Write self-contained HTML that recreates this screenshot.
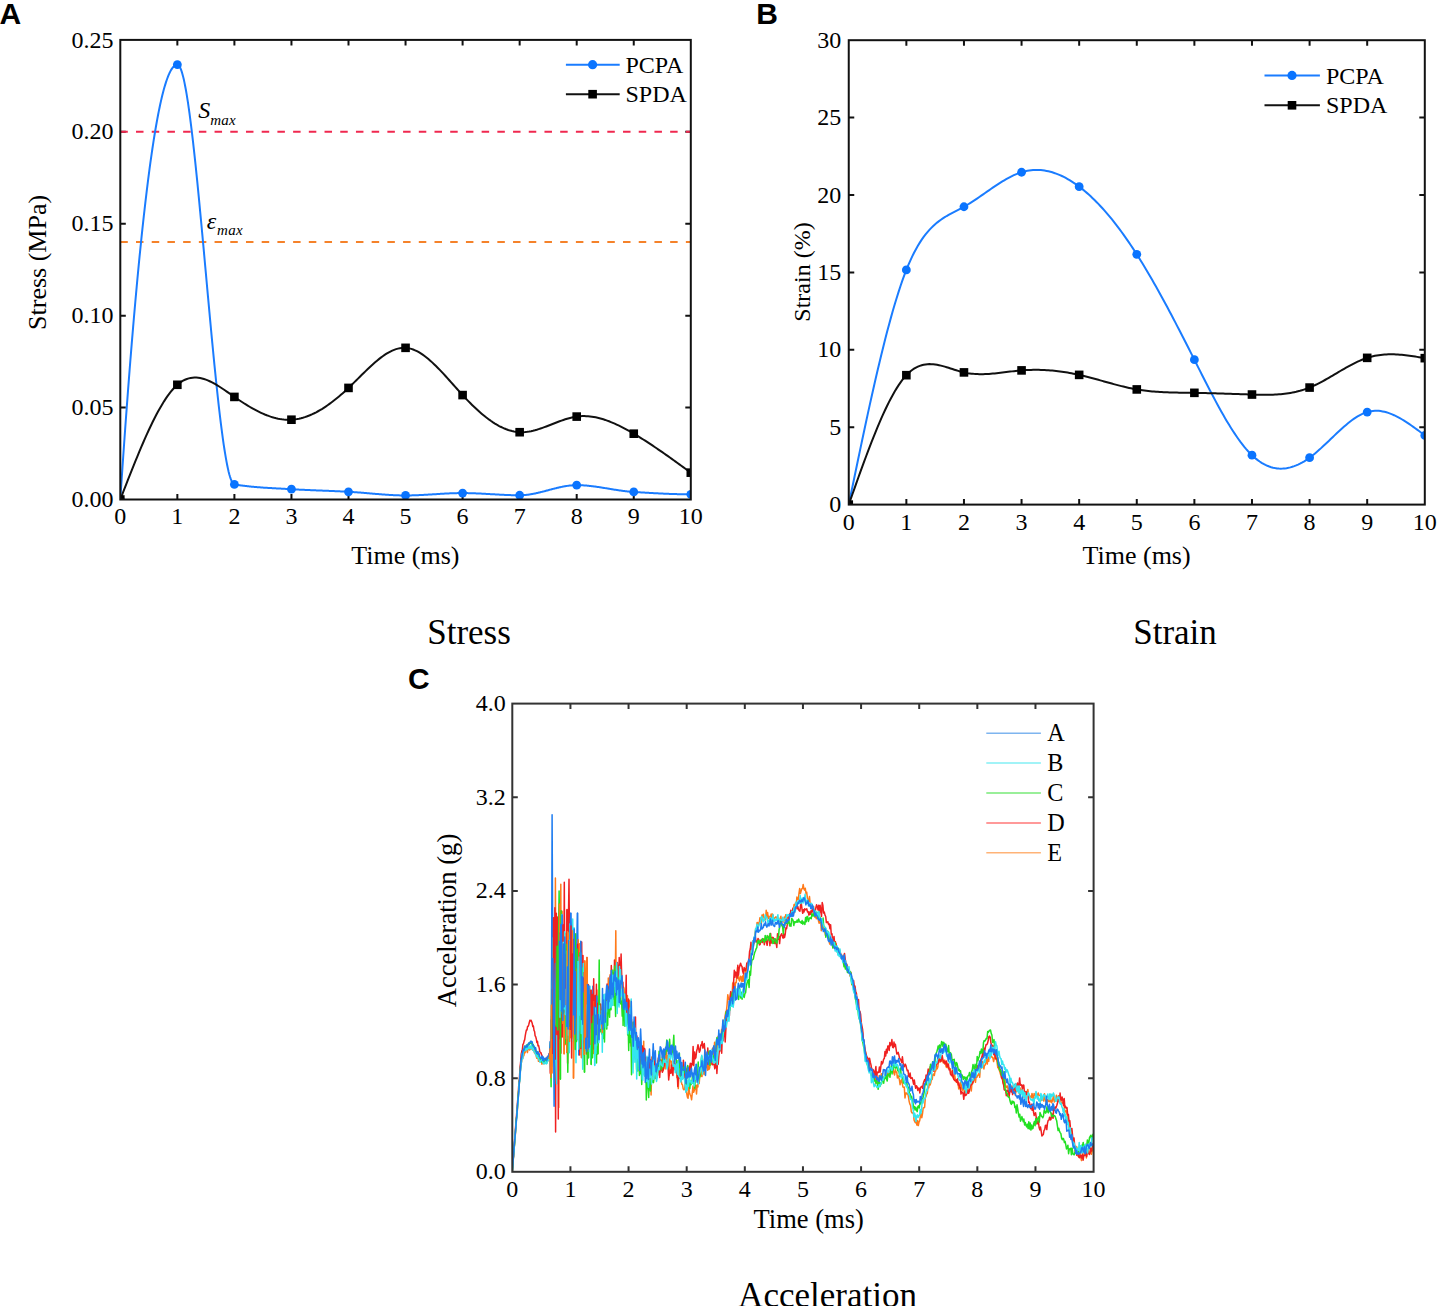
<!DOCTYPE html>
<html><head><meta charset="utf-8"><style>
html,body{margin:0;padding:0;background:#fff;}
body{width:1438px;height:1306px;position:relative;overflow:hidden;font-family:"Liberation Serif", serif;}
</style></head><body>
<svg width="1438" height="1306" viewBox="0 0 1438 1306" style="position:absolute;left:0;top:0">
<rect width="1438" height="1306" fill="#fff"/>
<clipPath id="cA"><rect x="120.3" y="39.9" width="570.5" height="459.6"/></clipPath>
<path d="M177.35,499.5v-5.5M177.35,39.9v5.5M234.40,499.5v-5.5M234.40,39.9v5.5M291.45,499.5v-5.5M291.45,39.9v5.5M348.50,499.5v-5.5M348.50,39.9v5.5M405.55,499.5v-5.5M405.55,39.9v5.5M462.60,499.5v-5.5M462.60,39.9v5.5M519.65,499.5v-5.5M519.65,39.9v5.5M576.70,499.5v-5.5M576.70,39.9v5.5M633.75,499.5v-5.5M633.75,39.9v5.5M120.3,407.58h5.5M690.8,407.58h-5.5M120.3,315.66h5.5M690.8,315.66h-5.5M120.3,223.74h5.5M690.8,223.74h-5.5M120.3,131.82h5.5M690.8,131.82h-5.5" stroke="#111" stroke-width="2" fill="none"/>
<path d="M120.3,131.82H690.8" stroke="#f0284f" stroke-width="2" stroke-dasharray="7.5 8.21" fill="none"/>
<path d="M120.3,242.12H690.8" stroke="#f5822a" stroke-width="2" stroke-dasharray="7.5 8.21" fill="none"/>
<g clip-path="url(#cA)">
<path d="M120.30,499.50 L121.01,488.79 L121.73,478.21 L122.44,467.76 L123.15,457.45 L123.87,447.26 L124.58,437.21 L125.29,427.29 L126.00,417.50 L126.72,407.84 L127.43,398.32 L128.14,388.93 L128.86,379.66 L129.57,370.54 L130.28,361.54 L131.00,352.68 L131.71,343.94 L132.42,335.34 L133.14,326.88 L133.85,318.54 L134.56,310.34 L135.28,302.27 L135.99,294.34 L136.70,286.54 L137.41,278.87 L138.13,271.33 L138.84,263.93 L139.55,256.66 L140.27,249.53 L140.98,242.53 L141.69,235.66 L142.41,228.93 L143.12,222.33 L143.83,215.86 L144.55,209.53 L145.26,203.33 L145.97,197.27 L146.69,191.34 L147.40,185.54 L148.11,179.88 L148.82,174.36 L149.54,168.97 L150.25,163.71 L150.96,158.59 L151.68,153.60 L152.39,148.75 L153.10,144.03 L153.82,139.45 L154.53,135.01 L155.24,130.70 L155.96,126.52 L156.67,122.48 L157.38,118.58 L158.10,114.81 L158.81,111.18 L159.52,107.68 L160.24,104.32 L160.95,101.10 L161.66,98.01 L162.37,95.06 L163.09,92.25 L163.80,89.57 L164.51,87.02 L165.23,84.62 L165.94,82.35 L166.65,80.22 L167.37,78.22 L168.08,76.37 L168.79,74.65 L169.51,73.06 L170.22,71.61 L170.93,70.31 L171.64,69.13 L172.36,68.10 L173.07,67.20 L173.78,66.44 L174.50,65.82 L175.21,65.34 L175.92,64.99 L176.64,64.79 L177.35,64.72 L178.06,64.91 L178.78,65.49 L179.49,66.43 L180.20,67.74 L180.92,69.40 L181.63,71.40 L182.34,73.73 L183.06,76.39 L183.77,79.35 L184.48,82.62 L185.19,86.19 L185.91,90.03 L186.62,94.16 L187.33,98.54 L188.05,103.18 L188.76,108.07 L189.47,113.18 L190.19,118.53 L190.90,124.09 L191.61,129.85 L192.33,135.82 L193.04,141.96 L193.75,148.29 L194.47,154.78 L195.18,161.43 L195.89,168.22 L196.60,175.16 L197.32,182.22 L198.03,189.40 L198.74,196.69 L199.46,204.07 L200.17,211.55 L200.88,219.10 L201.60,226.73 L202.31,234.41 L203.02,242.15 L203.74,249.92 L204.45,257.73 L205.16,265.55 L205.88,273.39 L206.59,281.23 L207.30,289.06 L208.01,296.87 L208.73,304.66 L209.44,312.41 L210.15,320.11 L210.87,327.75 L211.58,335.33 L212.29,342.83 L213.01,350.24 L213.72,357.56 L214.43,364.78 L215.15,371.87 L215.86,378.85 L216.57,385.68 L217.29,392.38 L218.00,398.92 L218.71,405.30 L219.42,411.50 L220.14,417.52 L220.85,423.34 L221.56,428.97 L222.28,434.38 L222.99,439.57 L223.70,444.52 L224.42,449.24 L225.13,453.70 L225.84,457.90 L226.56,461.84 L227.27,465.49 L227.98,468.85 L228.69,471.91 L229.41,474.66 L230.12,477.09 L230.83,479.19 L231.55,480.96 L232.26,482.37 L232.97,483.43 L233.69,484.11 L234.40,484.43 L235.11,484.54 L235.83,484.66 L236.54,484.77 L237.25,484.88 L237.97,484.99 L238.68,485.09 L239.39,485.19 L240.11,485.29 L240.82,485.39 L241.53,485.49 L242.24,485.58 L242.96,485.68 L243.67,485.77 L244.38,485.85 L245.10,485.94 L245.81,486.03 L246.52,486.11 L247.24,486.19 L247.95,486.27 L248.66,486.34 L249.38,486.42 L250.09,486.49 L250.80,486.57 L251.52,486.64 L252.23,486.71 L252.94,486.77 L253.65,486.84 L254.37,486.90 L255.08,486.97 L255.79,487.03 L256.51,487.09 L257.22,487.15 L257.93,487.21 L258.65,487.26 L259.36,487.32 L260.07,487.37 L260.79,487.42 L261.50,487.48 L262.21,487.53 L262.93,487.58 L263.64,487.63 L264.35,487.68 L265.06,487.72 L265.78,487.77 L266.49,487.82 L267.20,487.86 L267.92,487.90 L268.63,487.95 L269.34,487.99 L270.06,488.03 L270.77,488.07 L271.48,488.12 L272.20,488.16 L272.91,488.20 L273.62,488.24 L274.33,488.28 L275.05,488.32 L275.76,488.35 L276.47,488.39 L277.19,488.43 L277.90,488.47 L278.61,488.51 L279.33,488.54 L280.04,488.58 L280.75,488.62 L281.47,488.66 L282.18,488.70 L282.89,488.73 L283.61,488.77 L284.32,488.81 L285.03,488.85 L285.75,488.89 L286.46,488.92 L287.17,488.96 L287.88,489.00 L288.60,489.04 L289.31,489.08 L290.02,489.12 L290.74,489.16 L291.45,489.20 L292.16,489.25 L292.88,489.29 L293.59,489.33 L294.30,489.37 L295.02,489.41 L295.73,489.45 L296.44,489.48 L297.15,489.52 L297.87,489.56 L298.58,489.59 L299.29,489.63 L300.01,489.67 L300.72,489.70 L301.43,489.74 L302.15,489.77 L302.86,489.80 L303.57,489.84 L304.29,489.87 L305.00,489.90 L305.71,489.94 L306.43,489.97 L307.14,490.00 L307.85,490.03 L308.56,490.06 L309.28,490.09 L309.99,490.12 L310.70,490.15 L311.42,490.18 L312.13,490.21 L312.84,490.24 L313.56,490.27 L314.27,490.30 L314.98,490.33 L315.70,490.36 L316.41,490.39 L317.12,490.42 L317.84,490.45 L318.55,490.47 L319.26,490.50 L319.97,490.53 L320.69,490.56 L321.40,490.59 L322.11,490.62 L322.83,490.64 L323.54,490.67 L324.25,490.70 L324.97,490.73 L325.68,490.76 L326.39,490.79 L327.11,490.81 L327.82,490.84 L328.53,490.87 L329.25,490.90 L329.96,490.93 L330.67,490.96 L331.38,490.99 L332.10,491.02 L332.81,491.05 L333.52,491.08 L334.24,491.11 L334.95,491.14 L335.66,491.17 L336.38,491.20 L337.09,491.23 L337.80,491.26 L338.52,491.29 L339.23,491.33 L339.94,491.36 L340.66,491.39 L341.37,491.42 L342.08,491.46 L342.80,491.49 L343.51,491.53 L344.22,491.56 L344.93,491.60 L345.65,491.63 L346.36,491.67 L347.07,491.70 L347.79,491.74 L348.50,491.78 L349.21,491.82 L349.93,491.86 L350.64,491.90 L351.35,491.94 L352.07,491.99 L352.78,492.03 L353.49,492.08 L354.21,492.13 L354.92,492.18 L355.63,492.23 L356.34,492.28 L357.06,492.33 L357.77,492.38 L358.48,492.44 L359.20,492.49 L359.91,492.55 L360.62,492.61 L361.34,492.66 L362.05,492.72 L362.76,492.78 L363.48,492.84 L364.19,492.90 L364.90,492.96 L365.62,493.02 L366.33,493.08 L367.04,493.14 L367.75,493.20 L368.47,493.26 L369.18,493.32 L369.89,493.39 L370.61,493.45 L371.32,493.51 L372.03,493.57 L372.75,493.63 L373.46,493.69 L374.17,493.75 L374.89,493.82 L375.60,493.88 L376.31,493.94 L377.03,494.00 L377.74,494.05 L378.45,494.11 L379.16,494.17 L379.88,494.23 L380.59,494.29 L381.30,494.34 L382.02,494.40 L382.73,494.45 L383.44,494.51 L384.16,494.56 L384.87,494.61 L385.58,494.66 L386.30,494.71 L387.01,494.76 L387.72,494.81 L388.44,494.85 L389.15,494.90 L389.86,494.94 L390.57,494.98 L391.29,495.02 L392.00,495.06 L392.71,495.10 L393.43,495.14 L394.14,495.17 L394.85,495.20 L395.57,495.23 L396.28,495.26 L396.99,495.29 L397.71,495.32 L398.42,495.34 L399.13,495.36 L399.85,495.38 L400.56,495.40 L401.27,495.41 L401.98,495.43 L402.70,495.44 L403.41,495.44 L404.12,495.45 L404.84,495.45 L405.55,495.46 L406.26,495.45 L406.98,495.45 L407.69,495.45 L408.40,495.44 L409.12,495.43 L409.83,495.42 L410.54,495.40 L411.25,495.39 L411.97,495.37 L412.68,495.35 L413.39,495.33 L414.11,495.31 L414.82,495.29 L415.53,495.26 L416.25,495.23 L416.96,495.21 L417.67,495.18 L418.39,495.15 L419.10,495.12 L419.81,495.08 L420.53,495.05 L421.24,495.01 L421.95,494.98 L422.67,494.94 L423.38,494.90 L424.09,494.86 L424.80,494.82 L425.52,494.78 L426.23,494.74 L426.94,494.70 L427.66,494.66 L428.37,494.61 L429.08,494.57 L429.80,494.53 L430.51,494.48 L431.22,494.44 L431.94,494.39 L432.65,494.35 L433.36,494.31 L434.08,494.26 L434.79,494.22 L435.50,494.17 L436.21,494.13 L436.93,494.08 L437.64,494.04 L438.35,493.99 L439.07,493.95 L439.78,493.91 L440.49,493.86 L441.21,493.82 L441.92,493.78 L442.63,493.74 L443.35,493.70 L444.06,493.66 L444.77,493.62 L445.49,493.58 L446.20,493.54 L446.91,493.51 L447.62,493.47 L448.34,493.44 L449.05,493.41 L449.76,493.37 L450.48,493.34 L451.19,493.31 L451.90,493.29 L452.62,493.26 L453.33,493.23 L454.04,493.21 L454.76,493.19 L455.47,493.17 L456.18,493.15 L456.90,493.13 L457.61,493.12 L458.32,493.10 L459.03,493.09 L459.75,493.08 L460.46,493.08 L461.17,493.07 L461.89,493.07 L462.60,493.07 L463.31,493.07 L464.03,493.07 L464.74,493.07 L465.45,493.08 L466.17,493.09 L466.88,493.10 L467.59,493.11 L468.31,493.13 L469.02,493.14 L469.73,493.16 L470.44,493.18 L471.16,493.20 L471.87,493.22 L472.58,493.24 L473.30,493.27 L474.01,493.30 L474.72,493.32 L475.44,493.35 L476.15,493.38 L476.86,493.41 L477.58,493.44 L478.29,493.47 L479.00,493.51 L479.72,493.54 L480.43,493.58 L481.14,493.61 L481.85,493.65 L482.57,493.69 L483.28,493.73 L483.99,493.76 L484.71,493.80 L485.42,493.84 L486.13,493.88 L486.85,493.92 L487.56,493.96 L488.27,494.00 L488.99,494.04 L489.70,494.09 L490.41,494.13 L491.12,494.17 L491.84,494.21 L492.55,494.25 L493.26,494.29 L493.98,494.33 L494.69,494.37 L495.40,494.41 L496.12,494.46 L496.83,494.50 L497.54,494.53 L498.26,494.57 L498.97,494.61 L499.68,494.65 L500.40,494.69 L501.11,494.72 L501.82,494.76 L502.54,494.80 L503.25,494.83 L503.96,494.86 L504.67,494.90 L505.39,494.93 L506.10,494.96 L506.81,494.99 L507.53,495.02 L508.24,495.04 L508.95,495.07 L509.67,495.09 L510.38,495.12 L511.09,495.14 L511.81,495.16 L512.52,495.18 L513.23,495.19 L513.95,495.21 L514.66,495.22 L515.37,495.24 L516.08,495.25 L516.80,495.26 L517.51,495.26 L518.22,495.27 L518.94,495.27 L519.65,495.27 L520.36,495.27 L521.08,495.25 L521.79,495.23 L522.50,495.20 L523.22,495.16 L523.93,495.11 L524.64,495.05 L525.36,494.99 L526.07,494.92 L526.78,494.84 L527.49,494.75 L528.21,494.66 L528.92,494.56 L529.63,494.45 L530.35,494.34 L531.06,494.22 L531.77,494.10 L532.49,493.97 L533.20,493.83 L533.91,493.69 L534.63,493.55 L535.34,493.40 L536.05,493.24 L536.76,493.09 L537.48,492.93 L538.19,492.76 L538.90,492.59 L539.62,492.42 L540.33,492.25 L541.04,492.07 L541.76,491.89 L542.47,491.71 L543.18,491.53 L543.90,491.35 L544.61,491.16 L545.32,490.97 L546.04,490.78 L546.75,490.59 L547.46,490.41 L548.17,490.22 L548.89,490.03 L549.60,489.84 L550.31,489.65 L551.03,489.46 L551.74,489.27 L552.45,489.09 L553.17,488.90 L553.88,488.72 L554.59,488.54 L555.31,488.36 L556.02,488.18 L556.73,488.01 L557.45,487.84 L558.16,487.67 L558.87,487.51 L559.59,487.34 L560.30,487.19 L561.01,487.03 L561.72,486.88 L562.44,486.74 L563.15,486.60 L563.86,486.47 L564.58,486.34 L565.29,486.21 L566.00,486.09 L566.72,485.98 L567.43,485.87 L568.14,485.77 L568.86,485.68 L569.57,485.59 L570.28,485.52 L571.00,485.44 L571.71,485.38 L572.42,485.32 L573.13,485.27 L573.85,485.23 L574.56,485.20 L575.27,485.18 L575.99,485.17 L576.70,485.16 L577.41,485.16 L578.13,485.17 L578.84,485.18 L579.55,485.20 L580.27,485.22 L580.98,485.25 L581.69,485.28 L582.40,485.32 L583.12,485.36 L583.83,485.40 L584.54,485.45 L585.26,485.51 L585.97,485.56 L586.68,485.62 L587.40,485.69 L588.11,485.75 L588.82,485.83 L589.54,485.90 L590.25,485.98 L590.96,486.06 L591.68,486.14 L592.39,486.23 L593.10,486.32 L593.82,486.41 L594.53,486.50 L595.24,486.60 L595.95,486.69 L596.67,486.80 L597.38,486.90 L598.09,487.00 L598.81,487.11 L599.52,487.22 L600.23,487.32 L600.95,487.43 L601.66,487.55 L602.37,487.66 L603.09,487.77 L603.80,487.89 L604.51,488.00 L605.23,488.12 L605.94,488.24 L606.65,488.35 L607.36,488.47 L608.08,488.59 L608.79,488.71 L609.50,488.82 L610.22,488.94 L610.93,489.06 L611.64,489.18 L612.36,489.29 L613.07,489.41 L613.78,489.52 L614.50,489.64 L615.21,489.75 L615.92,489.86 L616.63,489.97 L617.35,490.08 L618.06,490.19 L618.77,490.30 L619.49,490.40 L620.20,490.51 L620.91,490.61 L621.63,490.71 L622.34,490.80 L623.05,490.90 L623.77,490.99 L624.48,491.08 L625.19,491.17 L625.91,491.25 L626.62,491.33 L627.33,491.41 L628.04,491.49 L628.76,491.56 L629.47,491.63 L630.18,491.69 L630.90,491.75 L631.61,491.81 L632.32,491.87 L633.04,491.92 L633.75,491.96 L634.46,492.01 L635.18,492.05 L635.89,492.10 L636.60,492.14 L637.32,492.18 L638.03,492.23 L638.74,492.27 L639.45,492.31 L640.17,492.36 L640.88,492.40 L641.59,492.44 L642.31,492.49 L643.02,492.53 L643.73,492.57 L644.45,492.62 L645.16,492.66 L645.87,492.70 L646.59,492.74 L647.30,492.78 L648.01,492.82 L648.73,492.87 L649.44,492.91 L650.15,492.95 L650.87,492.99 L651.58,493.03 L652.29,493.07 L653.00,493.11 L653.72,493.14 L654.43,493.18 L655.14,493.22 L655.86,493.26 L656.57,493.30 L657.28,493.33 L658.00,493.37 L658.71,493.40 L659.42,493.44 L660.14,493.47 L660.85,493.51 L661.56,493.54 L662.27,493.58 L662.99,493.61 L663.70,493.64 L664.41,493.67 L665.13,493.71 L665.84,493.74 L666.55,493.77 L667.27,493.80 L667.98,493.82 L668.69,493.85 L669.41,493.88 L670.12,493.91 L670.83,493.93 L671.55,493.96 L672.26,493.98 L672.97,494.01 L673.69,494.03 L674.40,494.05 L675.11,494.08 L675.82,494.10 L676.54,494.12 L677.25,494.14 L677.96,494.16 L678.68,494.18 L679.39,494.19 L680.10,494.21 L680.82,494.23 L681.53,494.24 L682.24,494.26 L682.96,494.27 L683.67,494.28 L684.38,494.29 L685.09,494.30 L685.81,494.31 L686.52,494.32 L687.23,494.33 L687.95,494.34 L688.66,494.34 L689.37,494.35 L690.09,494.35 L690.80,494.35" stroke="#1a7cff" stroke-width="2" fill="none" stroke-linejoin="round"/>
<circle cx="120.30" cy="499.50" r="4.4" fill="#0a74ff"/>
<circle cx="177.35" cy="64.72" r="4.4" fill="#0a74ff"/>
<circle cx="234.40" cy="484.43" r="4.4" fill="#0a74ff"/>
<circle cx="291.45" cy="489.20" r="4.4" fill="#0a74ff"/>
<circle cx="348.50" cy="491.78" r="4.4" fill="#0a74ff"/>
<circle cx="405.55" cy="495.46" r="4.4" fill="#0a74ff"/>
<circle cx="462.60" cy="493.07" r="4.4" fill="#0a74ff"/>
<circle cx="519.65" cy="495.27" r="4.4" fill="#0a74ff"/>
<circle cx="576.70" cy="485.16" r="4.4" fill="#0a74ff"/>
<circle cx="633.75" cy="491.96" r="4.4" fill="#0a74ff"/>
<circle cx="690.80" cy="494.35" r="4.4" fill="#0a74ff"/>
<path d="M120.30,499.50 L122.20,494.60 L124.10,489.71 L126.00,484.83 L127.91,479.97 L129.81,475.14 L131.71,470.35 L133.61,465.60 L135.51,460.90 L137.41,456.26 L139.32,451.68 L141.22,447.18 L143.12,442.75 L145.02,438.41 L146.92,434.16 L148.82,430.02 L150.73,425.98 L152.63,422.06 L154.53,418.25 L156.43,414.58 L158.33,411.05 L160.23,407.66 L162.14,404.41 L164.04,401.33 L165.94,398.41 L167.84,395.67 L169.74,393.10 L171.64,390.73 L173.55,388.54 L175.45,386.56 L177.35,384.78 L179.25,383.22 L181.15,381.87 L183.06,380.71 L184.96,379.75 L186.86,378.98 L188.76,378.38 L190.66,377.95 L192.56,377.68 L194.47,377.56 L196.37,377.59 L198.27,377.76 L200.17,378.06 L202.07,378.48 L203.97,379.01 L205.88,379.66 L207.78,380.40 L209.68,381.24 L211.58,382.15 L213.48,383.15 L215.38,384.21 L217.28,385.34 L219.19,386.52 L221.09,387.74 L222.99,389.00 L224.89,390.29 L226.79,391.60 L228.69,392.93 L230.60,394.26 L232.50,395.59 L234.40,396.92 L236.30,398.23 L238.20,399.51 L240.11,400.78 L242.01,402.03 L243.91,403.25 L245.81,404.44 L247.71,405.61 L249.61,406.74 L251.51,407.84 L253.42,408.91 L255.32,409.94 L257.22,410.93 L259.12,411.88 L261.02,412.78 L262.93,413.64 L264.83,414.46 L266.73,415.22 L268.63,415.93 L270.53,416.59 L272.43,417.19 L274.33,417.74 L276.24,418.22 L278.14,418.65 L280.04,419.01 L281.94,419.30 L283.84,419.53 L285.75,419.68 L287.65,419.77 L289.55,419.78 L291.45,419.71 L293.35,419.57 L295.25,419.35 L297.15,419.06 L299.06,418.69 L300.96,418.24 L302.86,417.73 L304.76,417.15 L306.66,416.50 L308.56,415.78 L310.47,415.00 L312.37,414.16 L314.27,413.25 L316.17,412.28 L318.07,411.25 L319.97,410.17 L321.88,409.03 L323.78,407.83 L325.68,406.58 L327.58,405.27 L329.48,403.92 L331.38,402.52 L333.29,401.07 L335.19,399.57 L337.09,398.03 L338.99,396.44 L340.89,394.81 L342.80,393.14 L344.70,391.44 L346.60,389.69 L348.50,387.91 L350.40,386.09 L352.30,384.25 L354.20,382.38 L356.11,380.50 L358.01,378.61 L359.91,376.72 L361.81,374.83 L363.71,372.96 L365.62,371.10 L367.52,369.27 L369.42,367.46 L371.32,365.70 L373.22,363.98 L375.12,362.31 L377.03,360.69 L378.93,359.14 L380.83,357.66 L382.73,356.26 L384.63,354.94 L386.53,353.71 L388.44,352.58 L390.34,351.55 L392.24,350.64 L394.14,349.83 L396.04,349.15 L397.94,348.60 L399.85,348.19 L401.75,347.92 L403.65,347.80 L405.55,347.83 L407.45,348.03 L409.35,348.38 L411.25,348.88 L413.16,349.52 L415.06,350.30 L416.96,351.21 L418.86,352.24 L420.76,353.39 L422.67,354.65 L424.57,356.02 L426.47,357.48 L428.37,359.03 L430.27,360.67 L432.17,362.38 L434.08,364.17 L435.98,366.02 L437.88,367.92 L439.78,369.88 L441.68,371.89 L443.58,373.94 L445.49,376.01 L447.39,378.11 L449.29,380.24 L451.19,382.37 L453.09,384.51 L454.99,386.65 L456.90,388.78 L458.80,390.90 L460.70,393.00 L462.60,395.08 L464.50,397.12 L466.40,399.13 L468.31,401.10 L470.21,403.03 L472.11,404.92 L474.01,406.76 L475.91,408.56 L477.81,410.31 L479.72,412.01 L481.62,413.66 L483.52,415.25 L485.42,416.79 L487.32,418.26 L489.22,419.68 L491.12,421.03 L493.03,422.32 L494.93,423.54 L496.83,424.68 L498.73,425.76 L500.63,426.76 L502.54,427.69 L504.44,428.54 L506.34,429.30 L508.24,429.98 L510.14,430.58 L512.04,431.09 L513.95,431.51 L515.85,431.84 L517.75,432.08 L519.65,432.21 L521.55,432.26 L523.45,432.20 L525.36,432.07 L527.26,431.85 L529.16,431.55 L531.06,431.19 L532.96,430.76 L534.86,430.28 L536.76,429.74 L538.67,429.15 L540.57,428.53 L542.47,427.87 L544.37,427.18 L546.27,426.46 L548.17,425.73 L550.08,424.99 L551.98,424.24 L553.88,423.50 L555.78,422.75 L557.68,422.02 L559.59,421.31 L561.49,420.61 L563.39,419.95 L565.29,419.32 L567.19,418.73 L569.09,418.19 L571.00,417.70 L572.90,417.26 L574.80,416.89 L576.70,416.59 L578.60,416.36 L580.50,416.20 L582.40,416.12 L584.31,416.10 L586.21,416.15 L588.11,416.27 L590.01,416.45 L591.91,416.69 L593.82,416.99 L595.72,417.35 L597.62,417.76 L599.52,418.23 L601.42,418.75 L603.32,419.32 L605.23,419.93 L607.13,420.60 L609.03,421.31 L610.93,422.06 L612.83,422.85 L614.73,423.68 L616.63,424.54 L618.54,425.45 L620.44,426.38 L622.34,427.35 L624.24,428.34 L626.14,429.36 L628.04,430.41 L629.95,431.48 L631.85,432.57 L633.75,433.69 L635.65,434.82 L637.55,435.96 L639.45,437.13 L641.36,438.31 L643.26,439.50 L645.16,440.71 L647.06,441.94 L648.96,443.17 L650.87,444.42 L652.77,445.69 L654.67,446.96 L656.57,448.25 L658.47,449.55 L660.37,450.85 L662.27,452.17 L664.18,453.50 L666.08,454.83 L667.98,456.17 L669.88,457.52 L671.78,458.88 L673.68,460.24 L675.59,461.61 L677.49,462.98 L679.39,464.35 L681.29,465.73 L683.19,467.11 L685.09,468.50 L687.00,469.88 L688.90,471.27 L690.80,472.66" stroke="#111" stroke-width="2" fill="none"/>
<rect x="116.00" y="495.20" width="8.6" height="8.6" fill="#000"/>
<rect x="173.05" y="380.48" width="8.6" height="8.6" fill="#000"/>
<rect x="230.10" y="392.62" width="8.6" height="8.6" fill="#000"/>
<rect x="287.15" y="415.41" width="8.6" height="8.6" fill="#000"/>
<rect x="344.20" y="383.61" width="8.6" height="8.6" fill="#000"/>
<rect x="401.25" y="343.53" width="8.6" height="8.6" fill="#000"/>
<rect x="458.30" y="390.78" width="8.6" height="8.6" fill="#000"/>
<rect x="515.35" y="427.91" width="8.6" height="8.6" fill="#000"/>
<rect x="572.40" y="412.29" width="8.6" height="8.6" fill="#000"/>
<rect x="629.45" y="429.39" width="8.6" height="8.6" fill="#000"/>
<rect x="686.50" y="468.36" width="8.6" height="8.6" fill="#000"/>
</g>
<rect x="120.3" y="39.9" width="570.5" height="459.6" fill="none" stroke="#111" stroke-width="2"/>
<text x="120.30" y="524.4" font-size="24" text-anchor="middle" font-family='"Liberation Serif", serif' >0</text>
<text x="177.35" y="524.4" font-size="24" text-anchor="middle" font-family='"Liberation Serif", serif' >1</text>
<text x="234.40" y="524.4" font-size="24" text-anchor="middle" font-family='"Liberation Serif", serif' >2</text>
<text x="291.45" y="524.4" font-size="24" text-anchor="middle" font-family='"Liberation Serif", serif' >3</text>
<text x="348.50" y="524.4" font-size="24" text-anchor="middle" font-family='"Liberation Serif", serif' >4</text>
<text x="405.55" y="524.4" font-size="24" text-anchor="middle" font-family='"Liberation Serif", serif' >5</text>
<text x="462.60" y="524.4" font-size="24" text-anchor="middle" font-family='"Liberation Serif", serif' >6</text>
<text x="519.65" y="524.4" font-size="24" text-anchor="middle" font-family='"Liberation Serif", serif' >7</text>
<text x="576.70" y="524.4" font-size="24" text-anchor="middle" font-family='"Liberation Serif", serif' >8</text>
<text x="633.75" y="524.4" font-size="24" text-anchor="middle" font-family='"Liberation Serif", serif' >9</text>
<text x="690.80" y="524.4" font-size="24" text-anchor="middle" font-family='"Liberation Serif", serif' >10</text>
<text x="113.6" y="507.10" font-size="24" text-anchor="end" font-family='"Liberation Serif", serif' >0.00</text>
<text x="113.6" y="415.18" font-size="24" text-anchor="end" font-family='"Liberation Serif", serif' >0.05</text>
<text x="113.6" y="323.26" font-size="24" text-anchor="end" font-family='"Liberation Serif", serif' >0.10</text>
<text x="113.6" y="231.34" font-size="24" text-anchor="end" font-family='"Liberation Serif", serif' >0.15</text>
<text x="113.6" y="139.42" font-size="24" text-anchor="end" font-family='"Liberation Serif", serif' >0.20</text>
<text x="113.6" y="47.50" font-size="24" text-anchor="end" font-family='"Liberation Serif", serif' >0.25</text>
<text x="405.4" y="564.4" font-size="26" text-anchor="middle" font-family='"Liberation Serif", serif' >Time (ms)</text>
<text transform="translate(46.3,262.4) rotate(-90)" font-size="26" text-anchor="middle" font-family='"Liberation Serif", serif'>Stress (MPa)</text>
<text x="198.3" y="118.4" font-size="24" font-style="italic" font-family='"Liberation Serif", serif'>S<tspan font-size="15" dy="6.5" letter-spacing="0.2">max</tspan></text>
<text x="206.8" y="229.3" font-size="24" font-style="italic" font-family='"Liberation Serif", serif'>ε<tspan font-size="15" dy="5.6" dx="0.8" letter-spacing="0.3">max</tspan></text>
<path d="M565.9,64.7H619.7" stroke="#1a7cff" stroke-width="2"/><circle cx="592.6" cy="64.7" r="4.6" fill="#0a74ff"/>
<path d="M565.9,94.2H619.7" stroke="#111" stroke-width="2"/><rect x="588.3" y="89.9" width="8.6" height="8.6" fill="#000"/>
<text x="625.5" y="72.6" font-size="24" text-anchor="start" font-family='"Liberation Serif", serif' >PCPA</text>
<text x="625.5" y="102.4" font-size="24" text-anchor="start" font-family='"Liberation Serif", serif' >SPDA</text>
<text x="-0.5" y="24" font-size="30" text-anchor="start" font-family='"Liberation Sans", sans-serif' font-weight="bold">A</text>
<clipPath id="cB"><rect x="848.75" y="40.2" width="576.05" height="464.40000000000003"/></clipPath>
<path d="M906.36,504.6v-5.5M906.36,40.2v5.5M963.96,504.6v-5.5M963.96,40.2v5.5M1021.56,504.6v-5.5M1021.56,40.2v5.5M1079.17,504.6v-5.5M1079.17,40.2v5.5M1136.78,504.6v-5.5M1136.78,40.2v5.5M1194.38,504.6v-5.5M1194.38,40.2v5.5M1251.98,504.6v-5.5M1251.98,40.2v5.5M1309.59,504.6v-5.5M1309.59,40.2v5.5M1367.19,504.6v-5.5M1367.19,40.2v5.5M848.75,427.20h5.5M1424.8,427.20h-5.5M848.75,349.80h5.5M1424.8,349.80h-5.5M848.75,272.40h5.5M1424.8,272.40h-5.5M848.75,195.00h5.5M1424.8,195.00h-5.5M848.75,117.60h5.5M1424.8,117.60h-5.5" stroke="#111" stroke-width="2" fill="none"/>
<g clip-path="url(#cB)">
<path d="M848.75,504.60 L850.67,495.29 L852.59,485.99 L854.51,476.72 L856.43,467.47 L858.35,458.26 L860.27,449.10 L862.19,440.00 L864.11,430.97 L866.03,422.02 L867.95,413.15 L869.87,404.39 L871.79,395.74 L873.71,387.20 L875.63,378.80 L877.55,370.53 L879.47,362.41 L881.39,354.45 L883.31,346.66 L885.23,339.05 L887.15,331.62 L889.07,324.40 L890.99,317.38 L892.91,310.58 L894.83,304.01 L896.75,297.68 L898.67,291.59 L900.59,285.76 L902.51,280.20 L904.43,274.92 L906.36,269.92 L908.28,265.22 L910.20,260.81 L912.12,256.67 L914.04,252.79 L915.96,249.16 L917.88,245.78 L919.80,242.62 L921.72,239.68 L923.64,236.94 L925.56,234.40 L927.48,232.05 L929.40,229.86 L931.32,227.84 L933.24,225.96 L935.16,224.22 L937.08,222.60 L939.00,221.10 L940.92,219.71 L942.84,218.40 L944.76,217.17 L946.68,216.01 L948.60,214.91 L950.52,213.85 L952.44,212.83 L954.36,211.83 L956.28,210.84 L958.20,209.85 L960.12,208.85 L962.04,207.82 L963.96,206.76 L965.88,205.66 L967.80,204.51 L969.72,203.33 L971.64,202.11 L973.56,200.87 L975.48,199.59 L977.40,198.30 L979.32,196.99 L981.24,195.66 L983.16,194.33 L985.08,192.99 L987.00,191.65 L988.92,190.32 L990.84,188.99 L992.76,187.68 L994.68,186.38 L996.60,185.10 L998.52,183.85 L1000.44,182.62 L1002.36,181.43 L1004.28,180.28 L1006.20,179.16 L1008.12,178.10 L1010.04,177.08 L1011.96,176.11 L1013.88,175.21 L1015.80,174.36 L1017.72,173.59 L1019.64,172.88 L1021.56,172.24 L1023.49,171.69 L1025.41,171.21 L1027.33,170.81 L1029.25,170.49 L1031.17,170.24 L1033.09,170.07 L1035.01,169.97 L1036.93,169.95 L1038.85,170.00 L1040.77,170.12 L1042.69,170.31 L1044.61,170.58 L1046.53,170.91 L1048.45,171.32 L1050.37,171.79 L1052.29,172.33 L1054.21,172.94 L1056.13,173.61 L1058.05,174.35 L1059.97,175.16 L1061.89,176.03 L1063.81,176.96 L1065.73,177.96 L1067.65,179.02 L1069.57,180.14 L1071.49,181.32 L1073.41,182.56 L1075.33,183.86 L1077.25,185.22 L1079.17,186.64 L1081.09,188.12 L1083.01,189.65 L1084.93,191.24 L1086.85,192.88 L1088.77,194.58 L1090.69,196.34 L1092.61,198.15 L1094.53,200.02 L1096.45,201.94 L1098.37,203.91 L1100.29,205.94 L1102.21,208.02 L1104.13,210.16 L1106.05,212.35 L1107.97,214.59 L1109.89,216.88 L1111.81,219.23 L1113.73,221.63 L1115.65,224.07 L1117.57,226.57 L1119.49,229.12 L1121.41,231.72 L1123.33,234.37 L1125.25,237.07 L1127.17,239.82 L1129.09,242.62 L1131.01,245.46 L1132.93,248.36 L1134.85,251.30 L1136.78,254.29 L1138.70,257.32 L1140.62,260.41 L1142.54,263.53 L1144.46,266.70 L1146.38,269.91 L1148.30,273.17 L1150.22,276.46 L1152.14,279.78 L1154.06,283.15 L1155.98,286.55 L1157.90,289.98 L1159.82,293.44 L1161.74,296.94 L1163.66,300.46 L1165.58,304.02 L1167.50,307.59 L1169.42,311.20 L1171.34,314.83 L1173.26,318.48 L1175.18,322.15 L1177.10,325.84 L1179.02,329.55 L1180.94,333.27 L1182.86,337.01 L1184.78,340.77 L1186.70,344.54 L1188.62,348.32 L1190.54,352.10 L1192.46,355.90 L1194.38,359.71 L1196.30,363.52 L1198.22,367.33 L1200.14,371.14 L1202.06,374.94 L1203.98,378.72 L1205.90,382.49 L1207.82,386.24 L1209.74,389.95 L1211.66,393.64 L1213.58,397.29 L1215.50,400.90 L1217.42,404.46 L1219.34,407.97 L1221.26,411.42 L1223.18,414.82 L1225.10,418.14 L1227.02,421.40 L1228.94,424.59 L1230.86,427.69 L1232.78,430.71 L1234.70,433.64 L1236.62,436.48 L1238.54,439.21 L1240.46,441.85 L1242.38,444.37 L1244.30,446.79 L1246.22,449.08 L1248.14,451.26 L1250.06,453.30 L1251.98,455.22 L1253.91,457.00 L1255.83,458.64 L1257.75,460.15 L1259.67,461.54 L1261.59,462.79 L1263.51,463.91 L1265.43,464.91 L1267.35,465.79 L1269.27,466.54 L1271.19,467.18 L1273.11,467.70 L1275.03,468.10 L1276.95,468.39 L1278.87,468.56 L1280.79,468.63 L1282.71,468.59 L1284.63,468.44 L1286.55,468.19 L1288.47,467.83 L1290.39,467.38 L1292.31,466.82 L1294.23,466.17 L1296.15,465.42 L1298.07,464.58 L1299.99,463.65 L1301.91,462.63 L1303.83,461.52 L1305.75,460.33 L1307.67,459.05 L1309.59,457.70 L1311.51,456.26 L1313.43,454.75 L1315.35,453.17 L1317.27,451.54 L1319.19,449.85 L1321.11,448.12 L1323.03,446.36 L1324.95,444.56 L1326.87,442.74 L1328.79,440.91 L1330.71,439.07 L1332.63,437.22 L1334.55,435.39 L1336.47,433.56 L1338.39,431.76 L1340.31,429.98 L1342.23,428.24 L1344.15,426.54 L1346.07,424.89 L1347.99,423.30 L1349.91,421.77 L1351.83,420.31 L1353.75,418.93 L1355.67,417.63 L1357.59,416.42 L1359.51,415.32 L1361.43,414.32 L1363.35,413.43 L1365.27,412.67 L1367.19,412.03 L1369.12,411.53 L1371.04,411.15 L1372.96,410.90 L1374.88,410.78 L1376.80,410.77 L1378.72,410.87 L1380.64,411.08 L1382.56,411.40 L1384.48,411.81 L1386.40,412.32 L1388.32,412.92 L1390.24,413.60 L1392.16,414.37 L1394.08,415.21 L1396.00,416.12 L1397.92,417.10 L1399.84,418.15 L1401.76,419.25 L1403.68,420.41 L1405.60,421.61 L1407.52,422.86 L1409.44,424.15 L1411.36,425.48 L1413.28,426.84 L1415.20,428.23 L1417.12,429.64 L1419.04,431.06 L1420.96,432.50 L1422.88,433.95 L1424.80,435.40" stroke="#1a7cff" stroke-width="2" fill="none"/>
<circle cx="848.75" cy="504.60" r="4.4" fill="#0a74ff"/>
<circle cx="906.36" cy="269.92" r="4.4" fill="#0a74ff"/>
<circle cx="963.96" cy="206.76" r="4.4" fill="#0a74ff"/>
<circle cx="1021.56" cy="172.24" r="4.4" fill="#0a74ff"/>
<circle cx="1079.17" cy="186.64" r="4.4" fill="#0a74ff"/>
<circle cx="1136.78" cy="254.29" r="4.4" fill="#0a74ff"/>
<circle cx="1194.38" cy="359.71" r="4.4" fill="#0a74ff"/>
<circle cx="1251.98" cy="455.22" r="4.4" fill="#0a74ff"/>
<circle cx="1309.59" cy="457.70" r="4.4" fill="#0a74ff"/>
<circle cx="1367.19" cy="412.03" r="4.4" fill="#0a74ff"/>
<circle cx="1424.80" cy="435.40" r="4.4" fill="#0a74ff"/>
<path d="M848.75,504.60 L850.67,499.16 L852.59,493.72 L854.51,488.30 L856.43,482.90 L858.35,477.53 L860.27,472.20 L862.19,466.92 L864.11,461.68 L866.03,456.51 L867.95,451.41 L869.87,446.38 L871.79,441.43 L873.71,436.58 L875.63,431.82 L877.55,427.17 L879.47,422.63 L881.39,418.21 L883.31,413.92 L885.23,409.77 L887.15,405.76 L889.07,401.90 L890.99,398.20 L892.91,394.66 L894.83,391.30 L896.75,388.12 L898.67,385.12 L900.59,382.33 L902.51,379.73 L904.43,377.35 L906.36,375.19 L908.28,373.25 L910.20,371.52 L912.12,370.01 L914.04,368.69 L915.96,367.56 L917.88,366.61 L919.80,365.82 L921.72,365.20 L923.64,364.72 L925.56,364.39 L927.48,364.18 L929.40,364.10 L931.32,364.13 L933.24,364.26 L935.16,364.48 L937.08,364.79 L939.00,365.17 L940.92,365.61 L942.84,366.11 L944.76,366.65 L946.68,367.22 L948.60,367.82 L950.52,368.44 L952.44,369.06 L954.36,369.68 L956.28,370.29 L958.20,370.88 L960.12,371.43 L962.04,371.94 L963.96,372.40 L965.88,372.80 L967.80,373.15 L969.72,373.43 L971.64,373.67 L973.56,373.86 L975.48,374.00 L977.40,374.09 L979.32,374.14 L981.24,374.16 L983.16,374.14 L985.08,374.08 L987.00,374.00 L988.92,373.89 L990.84,373.75 L992.76,373.59 L994.68,373.41 L996.60,373.21 L998.52,373.00 L1000.44,372.78 L1002.36,372.55 L1004.28,372.32 L1006.20,372.08 L1008.12,371.84 L1010.04,371.60 L1011.96,371.37 L1013.88,371.15 L1015.80,370.93 L1017.72,370.74 L1019.64,370.55 L1021.56,370.39 L1023.49,370.25 L1025.41,370.12 L1027.33,370.02 L1029.25,369.95 L1031.17,369.89 L1033.09,369.85 L1035.01,369.84 L1036.93,369.84 L1038.85,369.87 L1040.77,369.91 L1042.69,369.98 L1044.61,370.06 L1046.53,370.17 L1048.45,370.29 L1050.37,370.44 L1052.29,370.61 L1054.21,370.79 L1056.13,370.99 L1058.05,371.22 L1059.97,371.46 L1061.89,371.72 L1063.81,372.00 L1065.73,372.29 L1067.65,372.61 L1069.57,372.94 L1071.49,373.29 L1073.41,373.66 L1075.33,374.05 L1077.25,374.46 L1079.17,374.88 L1081.09,375.32 L1083.01,375.77 L1084.93,376.24 L1086.85,376.73 L1088.77,377.22 L1090.69,377.73 L1092.61,378.24 L1094.53,378.76 L1096.45,379.29 L1098.37,379.82 L1100.29,380.36 L1102.21,380.90 L1104.13,381.44 L1106.05,381.98 L1107.97,382.52 L1109.89,383.05 L1111.81,383.58 L1113.73,384.11 L1115.65,384.62 L1117.57,385.13 L1119.49,385.63 L1121.41,386.12 L1123.33,386.59 L1125.25,387.05 L1127.17,387.49 L1129.09,387.92 L1131.01,388.33 L1132.93,388.72 L1134.85,389.08 L1136.78,389.43 L1138.70,389.75 L1140.62,390.05 L1142.54,390.33 L1144.46,390.58 L1146.38,390.82 L1148.30,391.03 L1150.22,391.23 L1152.14,391.41 L1154.06,391.58 L1155.98,391.73 L1157.90,391.86 L1159.82,391.98 L1161.74,392.09 L1163.66,392.18 L1165.58,392.27 L1167.50,392.34 L1169.42,392.41 L1171.34,392.46 L1173.26,392.51 L1175.18,392.56 L1177.10,392.59 L1179.02,392.63 L1180.94,392.66 L1182.86,392.68 L1184.78,392.71 L1186.70,392.73 L1188.62,392.75 L1190.54,392.78 L1192.46,392.81 L1194.38,392.83 L1196.30,392.87 L1198.22,392.90 L1200.14,392.94 L1202.06,392.98 L1203.98,393.03 L1205.90,393.08 L1207.82,393.13 L1209.74,393.18 L1211.66,393.23 L1213.58,393.29 L1215.50,393.35 L1217.42,393.41 L1219.34,393.47 L1221.26,393.53 L1223.18,393.60 L1225.10,393.66 L1227.02,393.73 L1228.94,393.79 L1230.86,393.86 L1232.78,393.92 L1234.70,393.99 L1236.62,394.05 L1238.54,394.12 L1240.46,394.18 L1242.38,394.24 L1244.30,394.30 L1246.22,394.37 L1248.14,394.42 L1250.06,394.48 L1251.98,394.54 L1253.91,394.59 L1255.83,394.64 L1257.75,394.68 L1259.67,394.72 L1261.59,394.75 L1263.51,394.77 L1265.43,394.77 L1267.35,394.76 L1269.27,394.74 L1271.19,394.70 L1273.11,394.63 L1275.03,394.55 L1276.95,394.45 L1278.87,394.32 L1280.79,394.16 L1282.71,393.98 L1284.63,393.77 L1286.55,393.53 L1288.47,393.25 L1290.39,392.94 L1292.31,392.60 L1294.23,392.21 L1296.15,391.79 L1298.07,391.32 L1299.99,390.82 L1301.91,390.26 L1303.83,389.66 L1305.75,389.02 L1307.67,388.32 L1309.59,387.57 L1311.51,386.77 L1313.43,385.92 L1315.35,385.02 L1317.27,384.09 L1319.19,383.11 L1321.11,382.10 L1323.03,381.06 L1324.95,380.00 L1326.87,378.91 L1328.79,377.81 L1330.71,376.69 L1332.63,375.56 L1334.55,374.42 L1336.47,373.28 L1338.39,372.14 L1340.31,371.01 L1342.23,369.88 L1344.15,368.77 L1346.07,367.68 L1347.99,366.60 L1349.91,365.55 L1351.83,364.53 L1353.75,363.54 L1355.67,362.59 L1357.59,361.68 L1359.51,360.81 L1361.43,359.99 L1363.35,359.22 L1365.27,358.50 L1367.19,357.85 L1369.12,357.26 L1371.04,356.73 L1372.96,356.26 L1374.88,355.84 L1376.80,355.48 L1378.72,355.17 L1380.64,354.92 L1382.56,354.71 L1384.48,354.55 L1386.40,354.43 L1388.32,354.36 L1390.24,354.32 L1392.16,354.33 L1394.08,354.37 L1396.00,354.44 L1397.92,354.55 L1399.84,354.68 L1401.76,354.84 L1403.68,355.03 L1405.60,355.24 L1407.52,355.47 L1409.44,355.72 L1411.36,355.99 L1413.28,356.27 L1415.20,356.57 L1417.12,356.87 L1419.04,357.19 L1420.96,357.51 L1422.88,357.83 L1424.80,358.16" stroke="#111" stroke-width="2" fill="none"/>
<rect x="844.45" y="500.30" width="8.6" height="8.6" fill="#000"/>
<rect x="902.06" y="370.89" width="8.6" height="8.6" fill="#000"/>
<rect x="959.66" y="368.10" width="8.6" height="8.6" fill="#000"/>
<rect x="1017.26" y="366.09" width="8.6" height="8.6" fill="#000"/>
<rect x="1074.87" y="370.58" width="8.6" height="8.6" fill="#000"/>
<rect x="1132.48" y="385.13" width="8.6" height="8.6" fill="#000"/>
<rect x="1190.08" y="388.53" width="8.6" height="8.6" fill="#000"/>
<rect x="1247.68" y="390.24" width="8.6" height="8.6" fill="#000"/>
<rect x="1305.29" y="383.27" width="8.6" height="8.6" fill="#000"/>
<rect x="1362.89" y="353.55" width="8.6" height="8.6" fill="#000"/>
<rect x="1420.50" y="353.86" width="8.6" height="8.6" fill="#000"/>
</g>
<rect x="848.75" y="40.2" width="576.05" height="464.40000000000003" fill="none" stroke="#111" stroke-width="2"/>
<text x="848.75" y="529.5" font-size="24" text-anchor="middle" font-family='"Liberation Serif", serif' >0</text>
<text x="906.36" y="529.5" font-size="24" text-anchor="middle" font-family='"Liberation Serif", serif' >1</text>
<text x="963.96" y="529.5" font-size="24" text-anchor="middle" font-family='"Liberation Serif", serif' >2</text>
<text x="1021.56" y="529.5" font-size="24" text-anchor="middle" font-family='"Liberation Serif", serif' >3</text>
<text x="1079.17" y="529.5" font-size="24" text-anchor="middle" font-family='"Liberation Serif", serif' >4</text>
<text x="1136.78" y="529.5" font-size="24" text-anchor="middle" font-family='"Liberation Serif", serif' >5</text>
<text x="1194.38" y="529.5" font-size="24" text-anchor="middle" font-family='"Liberation Serif", serif' >6</text>
<text x="1251.98" y="529.5" font-size="24" text-anchor="middle" font-family='"Liberation Serif", serif' >7</text>
<text x="1309.59" y="529.5" font-size="24" text-anchor="middle" font-family='"Liberation Serif", serif' >8</text>
<text x="1367.19" y="529.5" font-size="24" text-anchor="middle" font-family='"Liberation Serif", serif' >9</text>
<text x="1424.80" y="529.5" font-size="24" text-anchor="middle" font-family='"Liberation Serif", serif' >10</text>
<text x="841.2" y="512.20" font-size="24" text-anchor="end" font-family='"Liberation Serif", serif' >0</text>
<text x="841.2" y="434.80" font-size="24" text-anchor="end" font-family='"Liberation Serif", serif' >5</text>
<text x="841.2" y="357.40" font-size="24" text-anchor="end" font-family='"Liberation Serif", serif' >10</text>
<text x="841.2" y="280.00" font-size="24" text-anchor="end" font-family='"Liberation Serif", serif' >15</text>
<text x="841.2" y="202.60" font-size="24" text-anchor="end" font-family='"Liberation Serif", serif' >20</text>
<text x="841.2" y="125.20" font-size="24" text-anchor="end" font-family='"Liberation Serif", serif' >25</text>
<text x="841.2" y="47.80" font-size="24" text-anchor="end" font-family='"Liberation Serif", serif' >30</text>
<text x="1136.6" y="564.4" font-size="26" text-anchor="middle" font-family='"Liberation Serif", serif' >Time (ms)</text>
<text transform="translate(809.5,272) rotate(-90)" font-size="24" text-anchor="middle" font-family='"Liberation Serif", serif'>Strain (%)</text>
<path d="M1264.5,75.4H1319.9" stroke="#1a7cff" stroke-width="2"/><circle cx="1292" cy="75.4" r="4.6" fill="#0a74ff"/>
<path d="M1264.5,105.3H1319.9" stroke="#111" stroke-width="2"/><rect x="1287.7" y="101" width="8.6" height="8.6" fill="#000"/>
<text x="1326" y="84.2" font-size="24" text-anchor="start" font-family='"Liberation Serif", serif' >PCPA</text>
<text x="1326" y="113.4" font-size="24" text-anchor="start" font-family='"Liberation Serif", serif' >SPDA</text>
<text x="756.3" y="24" font-size="30" text-anchor="start" font-family='"Liberation Sans", sans-serif' font-weight="bold">B</text>
<text x="469" y="643.7" font-size="35" text-anchor="middle" font-family='"Liberation Serif", serif' >Stress</text>
<text x="1175" y="643.6" font-size="35" text-anchor="middle" font-family='"Liberation Serif", serif' >Strain</text>
<text x="827.5" y="1306.5" font-size="35" text-anchor="middle" font-family='"Liberation Serif", serif' >Acceleration</text>
<clipPath id="cC"><rect x="512.3" y="703.6" width="581.3" height="468.19999999999993"/></clipPath>
<path d="M570.43,1171.8v-5.5M570.43,703.6v5.5M628.56,1171.8v-5.5M628.56,703.6v5.5M686.69,1171.8v-5.5M686.69,703.6v5.5M744.82,1171.8v-5.5M744.82,703.6v5.5M802.95,1171.8v-5.5M802.95,703.6v5.5M861.08,1171.8v-5.5M861.08,703.6v5.5M919.21,1171.8v-5.5M919.21,703.6v5.5M977.34,1171.8v-5.5M977.34,703.6v5.5M1035.47,1171.8v-5.5M1035.47,703.6v5.5M512.3,1078.16h5.5M1093.6,1078.16h-5.5M512.3,984.52h5.5M1093.6,984.52h-5.5M512.3,890.88h5.5M1093.6,890.88h-5.5M512.3,797.24h5.5M1093.6,797.24h-5.5" stroke="#333" stroke-width="2" fill="none"/>
<g clip-path="url(#cC)"><path d="M512.3,1171.8 512.9,1163.9 513.5,1157.3 514.0,1150.8 514.6,1143.0 515.2,1136.6 515.8,1128.1 516.4,1119.4 517.0,1115.2 517.5,1108.3 518.1,1099.1 518.7,1091.4 519.3,1084.0 519.9,1078.1 520.4,1070.2 521.0,1063.5 521.6,1062.0 522.2,1058.0 522.8,1058.4 523.3,1056.1 523.9,1055.6 524.5,1052.2 525.1,1052.8 525.7,1049.9 526.3,1049.5 526.8,1049.6 527.4,1052.5 528.0,1049.4 528.6,1048.4 529.2,1048.0 529.7,1050.1 530.3,1048.4 530.9,1049.1 531.5,1048.9 532.1,1046.7 532.6,1050.0 533.2,1049.8 533.8,1049.5 534.4,1052.6 535.0,1053.1 535.6,1054.0 536.1,1055.3 536.7,1058.2 537.3,1057.4 537.9,1056.5 538.5,1061.3 539.0,1058.5 539.6,1060.1 540.2,1061.8 540.8,1058.7 541.4,1061.0 541.9,1064.2 542.5,1062.9 543.1,1062.5 543.7,1063.7 544.3,1062.6 544.9,1063.5 545.4,1062.3 546.0,1060.8 546.6,1063.2 547.2,1061.3 547.8,1061.1 548.3,1059.9 548.9,1058.8 549.5,1057.6 550.1,1048.7" stroke="#ff7a1a" stroke-width="1.5" fill="none" stroke-linejoin="round"/>
<path d="M512.3,1171.8 513.0,1159.1 513.6,1156.4 514.2,1147.2 514.8,1137.2 515.4,1129.4 516.0,1122.0 516.5,1115.8 517.1,1107.7 517.7,1099.7 518.3,1092.5 518.9,1082.6 519.4,1079.0 520.0,1067.2 520.6,1062.7 521.2,1054.1 521.8,1051.3 522.4,1049.2 522.9,1044.5 523.5,1043.6 524.1,1041.1 524.7,1039.6 525.3,1035.3 525.8,1032.6 526.4,1030.0 527.0,1029.9 527.6,1026.5 528.2,1026.3 528.7,1024.9 529.3,1022.5 529.9,1020.3 530.5,1021.0 531.1,1020.4 531.7,1021.7 532.2,1023.2 532.8,1026.5 533.4,1026.0 534.0,1030.3 534.6,1031.5 535.1,1035.8 535.7,1036.6 536.3,1039.0 536.9,1042.6 537.5,1041.4 538.0,1045.8 538.6,1045.6 539.2,1048.1 539.8,1051.7 540.4,1052.7 541.0,1052.8 541.5,1054.6 542.1,1055.8 542.7,1057.4 543.3,1060.6 543.9,1059.2 544.4,1062.5 545.0,1058.7 545.6,1060.0 546.2,1059.5 546.8,1058.3 547.3,1056.9 547.9,1057.1 548.5,1055.4 549.1,1054.3 549.7,1053.0" stroke="#f02020" stroke-width="1.5" fill="none" stroke-linejoin="round"/>
<path d="M512.3,1171.8 513.2,1159.8 513.8,1149.3 514.4,1146.1 515.0,1136.5 515.5,1131.7 516.1,1120.6 516.7,1116.6 517.3,1109.2 517.9,1100.2 518.5,1091.8 519.0,1087.2 519.6,1078.3 520.2,1072.7 520.8,1064.2 521.4,1059.5 521.9,1056.2 522.5,1054.6 523.1,1052.5 523.7,1051.5 524.3,1048.4 524.8,1045.9 525.4,1049.8 526.0,1046.4 526.6,1046.2 527.2,1044.4 527.8,1045.9 528.3,1044.3 528.9,1045.2 529.5,1042.4 530.1,1043.1 530.7,1043.4 531.2,1042.8 531.8,1044.1 532.4,1046.6 533.0,1044.4 533.6,1045.9 534.1,1047.7 534.7,1047.4 535.3,1048.4 535.9,1052.9 536.5,1053.7 537.1,1051.6 537.6,1052.9 538.2,1056.8 538.8,1058.1 539.4,1058.1 540.0,1058.6 540.5,1060.9 541.1,1059.3 541.7,1061.8 542.3,1062.2 542.9,1059.7 543.4,1062.3 544.0,1061.7 544.6,1060.8 545.2,1060.4 545.8,1061.8 546.4,1061.0 546.9,1061.7 547.5,1058.2 548.1,1058.9 548.7,1058.2 549.3,1057.2 549.8,1056.0" stroke="#22e022" stroke-width="1.5" fill="none" stroke-linejoin="round"/>
<path d="M512.3,1171.8 513.4,1158.4 514.0,1150.5 514.5,1143.2 515.1,1135.7 515.7,1128.3 516.3,1122.7 516.9,1116.1 517.5,1107.0 518.0,1102.8 518.6,1093.4 519.2,1082.5 519.8,1081.0 520.4,1071.4 520.9,1063.6 521.5,1062.3 522.1,1053.3 522.7,1058.9 523.3,1051.7 523.9,1050.2 524.4,1049.9 525.0,1050.6 525.6,1049.0 526.2,1050.1 526.8,1047.2 527.3,1049.5 527.9,1048.0 528.5,1045.9 529.1,1048.6 529.7,1047.3 530.2,1046.4 530.8,1048.5 531.4,1045.1 532.0,1046.7 532.6,1050.0 533.2,1048.8 533.7,1050.9 534.3,1051.8 534.9,1052.0 535.5,1054.4 536.1,1053.3 536.6,1056.8 537.2,1055.5 537.8,1057.9 538.4,1057.4 539.0,1060.0 539.5,1060.6 540.1,1062.2 540.7,1060.4 541.3,1060.6 541.9,1059.4 542.5,1061.1 543.0,1062.9 543.6,1063.8 544.2,1063.1 544.8,1063.7 545.4,1061.4 545.9,1061.8 546.5,1063.9 547.1,1063.1 547.7,1060.3 548.3,1060.5 548.8,1059.5 549.4,1058.4 550.0,1057.1" stroke="#33e6f0" stroke-width="1.5" fill="none" stroke-linejoin="round"/>
<path d="M512.3,1171.8 513.6,1153.7 514.1,1147.0 514.7,1140.5 515.3,1134.1 515.9,1126.4 516.5,1118.2 517.0,1113.3 517.6,1103.5 518.2,1098.3 518.8,1091.4 519.4,1082.5 519.9,1076.0 520.5,1068.9 521.1,1059.7 521.7,1057.3 522.3,1054.1 522.9,1051.0 523.4,1049.3 524.0,1050.4 524.6,1046.6 525.2,1046.9 525.8,1046.6 526.3,1045.2 526.9,1047.3 527.5,1045.9 528.1,1044.5 528.7,1043.0 529.3,1044.1 529.8,1043.4 530.4,1041.7 531.0,1041.1 531.6,1042.2 532.2,1041.9 532.7,1045.0 533.3,1045.8 533.9,1045.9 534.5,1047.9 535.1,1049.4 535.6,1047.6 536.2,1051.4 536.8,1053.6 537.4,1052.6 538.0,1051.6 538.6,1054.7 539.1,1053.7 539.7,1056.7 540.3,1057.4 540.9,1058.3 541.5,1058.1 542.0,1055.9 542.6,1060.5 543.2,1056.9 543.8,1060.8 544.4,1059.8 544.9,1058.2 545.5,1058.2 546.1,1058.3 546.7,1060.5 547.3,1057.1 547.9,1057.3 548.4,1055.8 549.0,1054.7 549.6,1053.5" stroke="#1e7cf0" stroke-width="1.5" fill="none" stroke-linejoin="round"/>
<path d="M549.1,1054.3 549.7,1053.0 550.3,1073.2 550.9,1020.0 551.6,1052.7 552.3,947.3 552.9,1054.1 553.6,917.7" stroke="#f02020" stroke-width="1.5" fill="none" stroke-linejoin="round"/>
<path d="M549.3,1057.2 549.8,1056.0 550.4,1042.5 551.1,1086.8 551.8,954.5 552.4,1038.7 553.1,994.6" stroke="#22e022" stroke-width="1.5" fill="none" stroke-linejoin="round"/>
<path d="M549.4,1058.4 550.0,1057.1 550.6,1070.0 551.3,1016.5 551.9,1066.6 552.6,988.7 553.3,937.7" stroke="#33e6f0" stroke-width="1.5" fill="none" stroke-linejoin="round"/>
<path d="M549.0,1054.7 549.6,1053.5 550.2,1041.4 550.8,1055.6 551.4,1019.3 552.1,814.8 552.8,958.1 553.4,1009.5" stroke="#1e7cf0" stroke-width="1.5" fill="none" stroke-linejoin="round"/>
<path d="M548.9,1058.8 549.5,1057.6 550.1,1048.7 550.8,1077.5 551.4,1005.2 552.1,1073.0 552.8,963.7 553.4,1019.3" stroke="#ff7a1a" stroke-width="1.5" fill="none" stroke-linejoin="round"/>
<path d="M552.4,1038.7 553.1,994.6 553.8,1008.4 554.4,960.5 555.1,1099.2 555.8,921.4 556.4,1026.9 557.1,946.3" stroke="#22e022" stroke-width="1.5" fill="none" stroke-linejoin="round"/>
<path d="M552.6,988.7 553.3,937.7 553.9,937.9 554.6,1043.5 555.3,947.9 555.9,1059.8 556.6,1084.0" stroke="#33e6f0" stroke-width="1.5" fill="none" stroke-linejoin="round"/>
<path d="M552.8,963.7 553.4,1019.3 554.1,941.0 554.8,1052.7 555.4,878.0 556.1,1025.4 556.8,917.6" stroke="#ff7a1a" stroke-width="1.5" fill="none" stroke-linejoin="round"/>
<path d="M552.9,1054.1 553.6,917.7 554.3,1031.7 554.9,907.7 555.6,1132.0 556.3,913.2 556.9,1034.5" stroke="#f02020" stroke-width="1.5" fill="none" stroke-linejoin="round"/>
<path d="M552.8,958.1 553.4,1009.5 554.1,1106.3 554.8,983.8 555.4,963.6 556.1,1023.6 556.8,923.2" stroke="#1e7cf0" stroke-width="1.5" fill="none" stroke-linejoin="round"/>
<path d="M555.9,1059.8 556.6,1084.0 557.3,989.9 557.9,944.2 558.6,1024.8 559.3,908.7 559.9,1017.8 560.6,933.4" stroke="#33e6f0" stroke-width="1.5" fill="none" stroke-linejoin="round"/>
<path d="M556.1,1023.6 556.8,923.2 557.4,993.3 558.1,949.0 558.8,1023.8 559.4,940.7 560.1,999.5" stroke="#1e7cf0" stroke-width="1.5" fill="none" stroke-linejoin="round"/>
<path d="M556.1,1025.4 556.8,917.6 557.4,1004.3 558.1,925.2 558.8,1107.4 559.4,903.5 560.1,1070.7" stroke="#ff7a1a" stroke-width="1.5" fill="none" stroke-linejoin="round"/>
<path d="M556.3,913.2 556.9,1034.5 557.6,917.1 558.3,1119.1 558.9,918.7 559.6,1039.3 560.3,932.9" stroke="#f02020" stroke-width="1.5" fill="none" stroke-linejoin="round"/>
<path d="M556.4,1026.9 557.1,946.3 557.8,1030.1 558.4,949.6 559.1,890.9 559.8,941.5 560.4,1079.2" stroke="#22e022" stroke-width="1.5" fill="none" stroke-linejoin="round"/>
<path d="M559.4,903.5 560.1,1070.7 560.8,884.3 561.4,1016.8 562.1,911.2 562.8,1023.9 563.5,925.4 564.1,1054.0" stroke="#ff7a1a" stroke-width="1.5" fill="none" stroke-linejoin="round"/>
<path d="M559.6,1039.3 560.3,932.9 560.9,1053.3 561.6,924.1 562.3,1037.1 563.0,924.4 563.6,1012.2" stroke="#f02020" stroke-width="1.5" fill="none" stroke-linejoin="round"/>
<path d="M559.8,941.5 560.4,1079.2 561.1,910.7 561.8,1005.4 562.5,948.9 563.1,1014.2 563.8,963.6" stroke="#22e022" stroke-width="1.5" fill="none" stroke-linejoin="round"/>
<path d="M559.9,1017.8 560.6,933.4 561.3,1009.4 562.0,914.4 562.6,1013.9 563.3,941.7 564.0,1008.7" stroke="#33e6f0" stroke-width="1.5" fill="none" stroke-linejoin="round"/>
<path d="M559.4,940.7 560.1,999.5 560.8,924.6 561.5,1011.0 562.1,914.9 562.8,1021.0 563.5,943.9" stroke="#1e7cf0" stroke-width="1.5" fill="none" stroke-linejoin="round"/>
<path d="M562.8,1023.9 563.5,925.4 564.1,1054.0 564.8,956.3 565.5,1044.6 566.1,933.2 566.8,1052.6 567.5,931.6" stroke="#ff7a1a" stroke-width="1.5" fill="none" stroke-linejoin="round"/>
<path d="M563.0,924.4 563.6,1012.2 564.3,882.3 565.0,1012.0 565.6,952.3 566.3,1005.2 567.0,909.6" stroke="#f02020" stroke-width="1.5" fill="none" stroke-linejoin="round"/>
<path d="M563.1,1014.2 563.8,963.6 564.5,1009.5 565.1,947.1 565.8,1043.6 566.5,943.8 567.1,1011.8" stroke="#22e022" stroke-width="1.5" fill="none" stroke-linejoin="round"/>
<path d="M563.3,941.7 564.0,1008.7 564.6,931.8 565.3,1014.4 566.0,967.6 566.6,1039.0 567.3,951.0" stroke="#33e6f0" stroke-width="1.5" fill="none" stroke-linejoin="round"/>
<path d="M562.8,1021.0 563.5,943.9 564.1,1006.8 564.8,937.1 565.5,988.0 566.1,954.5 566.8,1027.1 567.5,967.0" stroke="#1e7cf0" stroke-width="1.5" fill="none" stroke-linejoin="round"/>
<path d="M566.3,1005.2 567.0,909.6 567.6,1063.2 568.3,928.7 569.0,879.2 569.6,954.8 570.3,1030.1 571.0,926.0" stroke="#f02020" stroke-width="1.5" fill="none" stroke-linejoin="round"/>
<path d="M566.5,943.8 567.1,1011.8 567.8,1072.3 568.5,1006.3 569.1,943.4 569.8,1026.7 570.5,924.0" stroke="#22e022" stroke-width="1.5" fill="none" stroke-linejoin="round"/>
<path d="M566.6,1039.0 567.3,951.0 568.0,1035.1 568.6,933.3 569.3,1052.8 570.0,923.8 570.6,1020.2" stroke="#33e6f0" stroke-width="1.5" fill="none" stroke-linejoin="round"/>
<path d="M566.8,1052.6 567.5,931.6 568.1,1012.9 568.8,933.2 569.5,1041.5 570.1,940.9 570.8,1037.7" stroke="#ff7a1a" stroke-width="1.5" fill="none" stroke-linejoin="round"/>
<path d="M566.8,1027.1 567.5,967.0 568.1,1028.9 568.8,940.5 569.5,1012.8 570.1,939.6 570.8,913.1" stroke="#1e7cf0" stroke-width="1.5" fill="none" stroke-linejoin="round"/>
<path d="M569.8,1026.7 570.5,924.0 571.1,1020.4 571.8,928.9 572.5,1038.2 573.2,951.6 573.8,999.0 574.5,977.6" stroke="#22e022" stroke-width="1.5" fill="none" stroke-linejoin="round"/>
<path d="M570.0,923.8 570.6,1020.2 571.3,949.7 572.0,1008.5 572.7,919.0 573.3,1041.4 574.0,927.7" stroke="#33e6f0" stroke-width="1.5" fill="none" stroke-linejoin="round"/>
<path d="M570.1,939.6 570.8,913.1 571.5,932.5 572.2,1011.8 572.8,956.5 573.5,1015.5 574.2,929.1" stroke="#1e7cf0" stroke-width="1.5" fill="none" stroke-linejoin="round"/>
<path d="M570.1,940.9 570.8,1037.7 571.5,954.0 572.1,990.5 572.8,930.8 573.5,1078.2 574.2,947.5" stroke="#ff7a1a" stroke-width="1.5" fill="none" stroke-linejoin="round"/>
<path d="M570.3,1030.1 571.0,926.0 571.6,1057.9 572.3,954.1 573.0,1036.6 573.7,938.8 574.3,1008.7" stroke="#f02020" stroke-width="1.5" fill="none" stroke-linejoin="round"/>
<path d="M573.3,1041.4 574.0,927.7 574.7,1029.2 575.3,991.5 576.0,1062.7 576.7,957.3 577.3,1039.7 578.0,961.4" stroke="#33e6f0" stroke-width="1.5" fill="none" stroke-linejoin="round"/>
<path d="M573.5,1078.2 574.2,947.5 574.8,1033.3 575.5,935.0 576.2,1025.5 576.8,968.2 577.5,1031.3" stroke="#ff7a1a" stroke-width="1.5" fill="none" stroke-linejoin="round"/>
<path d="M573.7,938.8 574.3,1008.7 575.0,947.5 575.7,1023.4 576.3,988.7 577.0,1039.3 577.7,944.3" stroke="#f02020" stroke-width="1.5" fill="none" stroke-linejoin="round"/>
<path d="M573.8,999.0 574.5,977.6 575.2,1049.4 575.8,933.7 576.5,1041.4 577.2,948.5 577.8,1032.5" stroke="#22e022" stroke-width="1.5" fill="none" stroke-linejoin="round"/>
<path d="M573.5,1015.5 574.2,929.1 574.8,1033.9 575.5,971.7 576.2,1017.5 576.8,971.4 577.5,913.1" stroke="#1e7cf0" stroke-width="1.5" fill="none" stroke-linejoin="round"/>
<path d="M576.8,971.4 577.5,913.1 578.2,962.0 578.8,1054.9 579.5,991.5 580.2,1039.6 580.8,941.2 581.5,1019.6" stroke="#1e7cf0" stroke-width="1.5" fill="none" stroke-linejoin="round"/>
<path d="M576.8,968.2 577.5,1031.3 578.2,939.8 578.8,1013.0 579.5,943.7 580.2,1026.8 580.8,983.5 581.5,1057.7" stroke="#ff7a1a" stroke-width="1.5" fill="none" stroke-linejoin="round"/>
<path d="M577.0,1039.3 577.7,944.3 578.3,1023.1 579.0,978.4 579.7,1055.1 580.3,955.9 581.0,1048.6" stroke="#f02020" stroke-width="1.5" fill="none" stroke-linejoin="round"/>
<path d="M577.2,948.5 577.8,1032.5 578.5,971.0 579.2,1030.0 579.8,953.0 580.5,1047.7 581.2,976.1" stroke="#22e022" stroke-width="1.5" fill="none" stroke-linejoin="round"/>
<path d="M577.3,1039.7 578.0,961.4 578.7,1049.3 579.3,957.1 580.0,1014.9 580.7,952.4 581.3,1033.6" stroke="#33e6f0" stroke-width="1.5" fill="none" stroke-linejoin="round"/>
<path d="M580.8,983.5 581.5,1057.7 582.2,971.6 582.8,1020.7 583.5,979.1 584.2,1055.0 584.8,960.7" stroke="#ff7a1a" stroke-width="1.5" fill="none" stroke-linejoin="round"/>
<path d="M580.3,955.9 581.0,1048.6 581.7,942.1 582.3,1026.6 583.0,955.4 583.7,1032.5 584.3,972.1 585.0,1036.3" stroke="#f02020" stroke-width="1.5" fill="none" stroke-linejoin="round"/>
<path d="M580.5,1047.7 581.2,976.1 581.8,1039.1 582.5,968.1 583.2,1050.7 583.8,992.6 584.5,1072.3" stroke="#22e022" stroke-width="1.5" fill="none" stroke-linejoin="round"/>
<path d="M580.7,952.4 581.3,1033.6 582.0,980.3 582.7,1069.2 583.3,963.6 584.0,1040.3 584.7,1007.3" stroke="#33e6f0" stroke-width="1.5" fill="none" stroke-linejoin="round"/>
<path d="M580.8,941.2 581.5,1019.6 582.2,976.7 582.8,1024.3 583.5,977.9 584.2,1043.7 584.9,999.3" stroke="#1e7cf0" stroke-width="1.5" fill="none" stroke-linejoin="round"/>
<path d="M584.3,972.1 585.0,1036.3 585.7,974.7 586.4,1054.0 587.0,957.6 587.7,1037.7 588.4,984.8" stroke="#f02020" stroke-width="1.5" fill="none" stroke-linejoin="round"/>
<path d="M583.8,992.6 584.5,1072.3 585.2,980.8 585.9,1049.6 586.5,968.0 587.2,1064.5 587.9,992.6 588.5,1058.1" stroke="#22e022" stroke-width="1.5" fill="none" stroke-linejoin="round"/>
<path d="M584.0,1040.3 584.7,1007.3 585.4,1049.0 586.0,977.2 586.7,1047.0 587.4,1004.5 588.0,1038.7" stroke="#33e6f0" stroke-width="1.5" fill="none" stroke-linejoin="round"/>
<path d="M584.2,1043.7 584.9,999.3 585.5,1048.5 586.2,989.5 586.9,1051.5 587.5,984.0 588.2,1049.0" stroke="#1e7cf0" stroke-width="1.5" fill="none" stroke-linejoin="round"/>
<path d="M584.2,1055.0 584.8,960.7 585.5,1037.1 586.2,975.5 586.9,957.6 587.5,992.8 588.2,1049.4" stroke="#ff7a1a" stroke-width="1.5" fill="none" stroke-linejoin="round"/>
<path d="M587.9,992.6 588.5,1058.1 589.2,1008.7 589.9,1043.8 590.5,1025.3 591.2,1064.4 591.9,1023.7" stroke="#22e022" stroke-width="1.5" fill="none" stroke-linejoin="round"/>
<path d="M587.4,1004.5 588.0,1038.7 588.7,1007.3 589.4,1051.4 590.0,986.3 590.7,1060.1 591.4,1007.7" stroke="#33e6f0" stroke-width="1.5" fill="none" stroke-linejoin="round"/>
<path d="M587.5,992.8 588.2,1049.4 588.9,988.3 589.5,1038.2 590.2,997.6 590.9,1045.0 591.5,995.7" stroke="#ff7a1a" stroke-width="1.5" fill="none" stroke-linejoin="round"/>
<path d="M587.7,1037.7 588.4,984.8 589.0,1043.7 589.7,995.9 590.4,1033.5 591.0,989.9 591.7,1033.0" stroke="#f02020" stroke-width="1.5" fill="none" stroke-linejoin="round"/>
<path d="M587.5,984.0 588.2,1049.0 588.9,986.1 589.5,1046.9 590.2,994.8 590.9,1029.4 591.5,993.3" stroke="#1e7cf0" stroke-width="1.5" fill="none" stroke-linejoin="round"/>
<path d="M590.7,1060.1 591.4,1007.7 592.0,1050.8 592.7,998.5 593.4,1043.2 594.0,1008.6 594.7,1065.6 595.4,1008.1" stroke="#33e6f0" stroke-width="1.5" fill="none" stroke-linejoin="round"/>
<path d="M590.9,1029.4 591.5,993.3 592.2,1042.6 592.9,986.2 593.5,1022.0 594.2,1006.5 594.9,1043.7" stroke="#1e7cf0" stroke-width="1.5" fill="none" stroke-linejoin="round"/>
<path d="M590.9,1045.0 591.5,995.7 592.2,1038.2 592.9,1003.9 593.5,1053.4 594.2,1001.1 594.9,1050.2" stroke="#ff7a1a" stroke-width="1.5" fill="none" stroke-linejoin="round"/>
<path d="M591.0,989.9 591.7,1033.0 592.4,994.4 593.0,1032.5 593.7,978.7 594.4,1049.2 595.0,995.4" stroke="#f02020" stroke-width="1.5" fill="none" stroke-linejoin="round"/>
<path d="M591.2,1064.4 591.9,1023.7 592.5,1057.8 593.2,1015.9 593.9,1042.0 594.5,1013.0 595.2,1052.6" stroke="#22e022" stroke-width="1.5" fill="none" stroke-linejoin="round"/>
<path d="M594.2,1001.1 594.9,1050.2 595.5,995.6 596.2,1046.3 596.9,990.1 597.5,1034.1 598.2,1002.3 598.9,1035.4" stroke="#ff7a1a" stroke-width="1.5" fill="none" stroke-linejoin="round"/>
<path d="M594.4,1049.2 595.0,995.4 595.7,1036.4 596.4,984.3 597.0,1037.7 597.7,1002.8 598.4,1035.1" stroke="#f02020" stroke-width="1.5" fill="none" stroke-linejoin="round"/>
<path d="M594.5,1013.0 595.2,1052.6 595.9,1008.9 596.5,1062.9 597.2,1012.8 597.9,1053.9 598.6,1020.3" stroke="#22e022" stroke-width="1.5" fill="none" stroke-linejoin="round"/>
<path d="M594.7,1065.6 595.4,1008.1 596.0,1053.6 596.7,1014.9 597.4,1045.5 598.1,1024.5 598.7,1042.7" stroke="#33e6f0" stroke-width="1.5" fill="none" stroke-linejoin="round"/>
<path d="M594.2,1006.5 594.9,1043.7 595.5,1015.3 596.2,1034.5 596.9,995.9 597.6,1042.6 598.2,1013.9 598.9,1039.8" stroke="#1e7cf0" stroke-width="1.5" fill="none" stroke-linejoin="round"/>
<path d="M598.2,1002.3 598.9,1035.4 599.5,1022.1 600.0,1019.4 600.4,1022.9 600.9,1020.5 601.4,1025.5 601.8,1024.7 602.3,1032.4" stroke="#ff7a1a" stroke-width="1.5" fill="none" stroke-linejoin="round"/>
<path d="M597.7,1002.8 598.4,1035.1 599.1,1000.7 599.7,1017.5 600.1,1015.1 600.6,1004.1 601.1,1009.6 601.5,1012.0 602.0,1015.2" stroke="#f02020" stroke-width="1.5" fill="none" stroke-linejoin="round"/>
<path d="M597.9,1053.9 598.6,1020.3 599.2,959.9 599.8,1032.2 600.3,1031.0 600.8,1026.7 601.2,1018.6 601.7,1034.0 602.2,1027.4" stroke="#22e022" stroke-width="1.5" fill="none" stroke-linejoin="round"/>
<path d="M598.1,1024.5 598.7,1042.7 599.4,1005.8 600.0,1027.2 600.5,1026.4 600.9,1028.3 601.4,1028.2 601.9,1010.8" stroke="#33e6f0" stroke-width="1.5" fill="none" stroke-linejoin="round"/>
<path d="M598.2,1013.9 598.9,1039.8 599.6,1020.0 600.2,1018.6 600.6,1015.8 601.1,1014.9 601.6,1024.5 602.0,1020.0" stroke="#1e7cf0" stroke-width="1.5" fill="none" stroke-linejoin="round"/>
<path d="M601.5,1012.0 602.0,1015.2 602.5,1018.7 602.9,1013.9 603.4,1016.7 603.8,1000.1 604.3,1011.8 604.8,1010.6 605.2,1017.7 605.7,1002.3" stroke="#f02020" stroke-width="1.5" fill="none" stroke-linejoin="round"/>
<path d="M601.7,1034.0 602.2,1027.4 602.6,1031.0 603.1,1034.5 603.6,1038.6 604.0,1022.5 604.5,1042.0 604.9,1018.7 605.4,1018.0" stroke="#22e022" stroke-width="1.5" fill="none" stroke-linejoin="round"/>
<path d="M601.4,1028.2 601.9,1010.8 602.3,1052.2 602.8,1012.3 603.3,994.7 603.7,1019.9 604.2,1018.9 604.7,1008.6 605.1,993.9 605.6,1027.4" stroke="#33e6f0" stroke-width="1.5" fill="none" stroke-linejoin="round"/>
<path d="M601.4,1025.5 601.8,1024.7 602.3,1032.4 602.8,1002.5 603.2,1017.9 603.7,1003.5 604.1,1013.1 604.6,1019.7 605.1,1013.6 605.5,1014.5" stroke="#ff7a1a" stroke-width="1.5" fill="none" stroke-linejoin="round"/>
<path d="M601.6,1024.5 602.0,1020.0 602.5,988.6 603.0,1029.2 603.4,1019.4 603.9,1000.0 604.4,1012.7 604.8,1018.7 605.3,1022.8 605.7,999.2" stroke="#1e7cf0" stroke-width="1.5" fill="none" stroke-linejoin="round"/>
<path d="M605.1,1013.6 605.5,1014.5 606.0,1005.9 606.5,1008.5 606.9,1005.8 607.4,1016.6 607.9,1008.3 608.3,978.0 608.8,1003.7 609.3,1006.6 609.7,988.7 610.2,974.5 610.7,1006.3 611.1,990.0 611.6,993.4 612.1,1005.1 612.5,974.5 613.0,982.1 613.4,979.9 613.9,988.7 614.4,973.9 614.8,985.1 615.3,980.4 615.8,930.7 616.2,993.5 616.7,964.1 617.2,986.3 617.6,977.7 618.1,982.4 618.6,988.1 619.0,989.8 619.5,977.5 620.0,989.4 620.4,988.7 620.9,987.9 621.4,975.8 621.8,983.2 622.3,988.4 622.7,1001.2 623.2,1012.7 623.7,987.3 624.1,989.0 624.6,1003.9 625.1,997.9 625.5,997.0 626.0,998.2 626.5,999.0 626.9,1016.8 627.4,995.4 627.9,1029.5 628.3,1006.5 628.8,1012.6 629.3,1010.0 629.7,1000.2 630.2,1006.6 630.7,1038.3 631.1,1046.1 631.6,1019.5 632.0,1041.6 632.5,1032.0 633.0,1024.1 633.4,1052.9 633.9,1059.3 634.4,1034.9 634.8,1038.5 635.3,1042.8 635.8,1041.0 636.2,1051.6 636.7,1059.5 637.2,1046.5 637.6,1055.9 638.1,1063.8 638.6,1042.8 639.0,1049.6 639.5,1045.9 640.0,1060.8 640.4,1058.5 640.9,1062.9 641.3,1062.9 641.8,1053.5 642.3,1064.2 642.7,1054.5 643.2,1055.9 643.7,1041.2 644.1,1074.5 644.6,1054.3 645.1,1064.3 645.5,1064.5 646.0,1078.2 646.5,1070.1 646.9,1059.9 647.4,1067.8 647.9,1066.6 648.3,1070.1 648.8,1057.7 649.3,1068.0 649.7,1086.6 650.2,1073.8 650.6,1084.4 651.1,1094.9 651.6,1072.2 651.8,1056.9 652.5,1067.3 653.2,1076.8 653.9,1074.6 654.6,1058.5 655.3,1065.7 656.0,1066.3 656.7,1066.9 657.4,1066.0 658.1,1060.5 658.8,1062.0 659.5,1064.0 660.2,1071.8 660.9,1061.2 661.6,1068.2 662.3,1056.7 663.0,1070.4 663.7,1063.1 664.4,1061.8 665.1,1069.0 665.8,1050.7 666.5,1051.9 667.2,1062.9 667.9,1055.6 668.6,1057.9 669.3,1075.5 669.9,1059.0 670.6,1061.4 671.3,1061.3 672.0,1069.2 672.7,1065.7 673.4,1066.7 674.1,1060.3 674.8,1067.0 675.5,1070.7 676.2,1063.6 676.9,1077.6 677.6,1078.4 678.3,1088.6 679.0,1070.4 679.7,1075.5 680.4,1077.1 681.1,1079.8 681.8,1084.2 682.5,1084.8 683.2,1088.8 683.9,1089.7 684.6,1089.4 685.3,1082.0 686.0,1088.7 686.7,1093.3 687.4,1097.2 688.1,1098.3 688.8,1085.8 689.5,1092.7 690.2,1094.7 690.9,1096.2 691.6,1099.8 692.3,1092.6 693.0,1086.0 693.7,1092.3 694.4,1090.0 695.1,1088.7 695.8,1085.4 696.5,1094.0 697.2,1084.7 697.9,1086.9 698.5,1075.2 699.2,1083.4 699.9,1074.1 700.6,1067.0 701.3,1076.3 702.0,1076.5 702.7,1070.5 703.4,1070.2 704.1,1074.6 704.8,1065.1 705.5,1055.1 706.2,1067.5 706.9,1066.2 707.6,1070.2 708.3,1061.3 709.0,1069.6 709.7,1067.8 710.4,1052.9 711.1,1064.6 711.8,1052.0 712.5,1048.3 713.2,1054.5 713.9,1051.6 714.6,1042.2 715.3,1053.4 716.0,1054.3 716.7,1057.1 717.4,1047.0 718.1,1036.3 718.8,1036.9 719.5,1045.4 720.2,1042.1 720.9,1037.2 721.6,1029.5 722.3,1029.3 723.0,1023.8 723.7,1020.2 724.4,1020.5 725.1,1016.0 725.8,1011.6 726.5,1010.4 727.1,1004.5 727.8,994.7 728.5,999.1 729.2,999.5 729.9,1006.1 730.6,992.8 731.3,1002.2 732.0,997.0 732.7,983.3 733.4,982.0 734.1,984.4 734.8,990.3 735.5,982.5 736.2,982.8 736.9,975.6 737.6,967.3 738.3,976.0 739.0,979.8 739.7,981.0 740.4,976.3 741.1,977.1 741.8,981.5 742.5,976.1 743.2,981.3 743.9,971.2 744.6,970.3 745.3,968.7 746.0,972.9 746.7,966.8 747.4,966.8 748.1,965.2 748.8,962.4 749.5,963.3 750.2,961.5 750.9,951.6 751.6,951.5 752.3,946.7 753.0,940.7 753.7,945.2 754.4,938.8 755.1,932.7 755.7,929.0 756.4,928.3 757.1,922.4 757.8,922.7 758.5,925.2 759.2,923.4 759.9,917.8 760.6,918.2 761.3,923.8 762.0,915.0 762.7,916.6 763.4,914.3 764.1,918.4 764.8,918.0 765.5,919.9 766.2,910.3 766.9,917.2 767.6,912.6 768.3,918.3 769.0,916.2 769.7,920.9 770.4,917.6 771.1,914.1 771.8,919.9 772.5,913.9 773.2,915.8 773.9,919.3 774.6,917.9 775.3,917.8 776.0,916.8 776.7,918.0 777.4,919.0 778.1,918.0 778.8,920.2 779.5,921.2 780.2,918.4 780.9,916.3 781.6,922.9 782.3,919.3 783.0,921.1 783.7,922.0 784.3,917.1 785.0,920.4 785.7,914.8 786.4,920.2 787.1,916.6 787.8,917.6 788.5,918.4 789.2,914.4 789.9,915.7 790.6,913.2 791.3,914.4 792.0,915.4 792.7,911.0 793.4,908.7 794.1,904.4 794.8,907.2 795.5,902.9 796.2,905.2 796.9,897.1 797.6,899.5 798.3,899.5 799.0,893.1 799.7,888.4 800.4,893.6 801.1,891.0 801.8,888.7 802.5,888.6 803.2,884.5 803.9,888.9 804.6,890.1 805.3,888.3 806.0,893.5 806.7,892.2 807.4,897.8 808.1,900.4 808.8,904.0 809.5,896.6 810.2,904.4 810.9,905.1 811.6,908.1 812.3,908.8 812.9,910.1 813.6,906.4 814.3,915.0 815.0,917.3 815.7,916.9 816.4,918.7 817.1,914.4 817.8,915.3 818.5,921.0 819.2,923.3 819.9,921.8 820.6,918.6 821.3,930.7 822.0,923.4 822.7,928.8 823.4,924.7 824.1,931.5 824.8,930.8 825.5,935.3 826.2,935.3 826.9,930.5 827.6,933.3 828.3,937.8 829.0,940.2 829.7,944.1 830.4,941.4 831.1,941.7 831.8,942.9 832.5,944.0 833.2,947.7 833.9,946.0 834.6,946.8 835.3,944.4 836.0,943.8 836.7,949.8 837.4,952.4 838.1,951.5 838.8,953.8 839.5,955.0 840.2,954.2 840.9,957.7 841.5,954.4 842.2,957.3 842.9,957.4 843.6,959.6 844.3,962.2 845.0,964.0 845.7,963.4 846.4,965.6 847.1,965.0 847.8,967.1 848.5,972.2 849.2,970.3 849.9,976.0 850.6,976.3 851.3,977.9 852.0,985.0 852.7,982.2 853.4,984.9 854.1,988.6 854.8,992.3 855.5,995.3 856.2,1000.1 856.9,1001.5 857.6,1005.5 858.3,1007.1 859.0,1014.0 859.7,1014.4 860.4,1019.0 861.1,1024.3 861.8,1029.9 862.5,1032.1 863.2,1042.6 863.9,1041.7 864.6,1046.7 865.3,1050.6 866.0,1053.9 866.7,1059.6 867.4,1060.9 868.1,1060.5 868.8,1062.9 869.5,1065.4 870.1,1071.6 870.8,1068.0 871.5,1067.9 872.2,1069.8 872.9,1073.2 873.6,1079.0 874.3,1073.6 875.0,1077.2 875.7,1084.0 876.4,1077.0 877.1,1082.0 877.8,1081.7 878.5,1080.2 879.2,1075.4 879.9,1079.6 880.6,1077.7 881.3,1073.7 882.0,1073.7 882.7,1077.7 883.4,1077.6 884.1,1079.8 884.8,1077.8 885.5,1074.5 886.2,1074.2 886.9,1074.5 887.6,1071.9 888.3,1076.0 889.0,1073.7 889.7,1071.1 890.4,1070.8 891.1,1069.0 891.8,1070.3 892.5,1071.7 893.2,1069.7 893.9,1073.2 894.6,1075.0 895.3,1069.8 896.0,1072.0 896.7,1071.9 897.4,1078.0 898.1,1075.7 898.7,1077.6 899.4,1079.6 900.1,1084.7 900.8,1081.3 901.5,1079.8 902.2,1082.8 902.9,1087.0 903.6,1087.3 904.3,1087.1 905.0,1097.9 905.7,1092.9 906.4,1092.9 907.1,1094.2 907.8,1093.5 908.5,1097.1 909.2,1101.6 909.9,1104.2 910.6,1105.5 911.3,1111.6 912.0,1112.9 912.7,1113.0 913.4,1112.6 914.1,1120.2 914.8,1121.8 915.5,1122.7 916.2,1120.9 916.9,1125.1 917.6,1120.4 918.3,1125.6 919.0,1122.2 919.7,1120.6 920.4,1116.2 921.1,1113.4 921.8,1117.7 922.5,1113.7 923.2,1107.9 923.9,1107.8 924.6,1107.3 925.3,1097.9 926.0,1096.5 926.7,1093.8 927.3,1093.5 928.0,1087.0 928.7,1087.8 929.4,1081.9 930.1,1084.9 930.8,1082.7 931.5,1078.6 932.2,1079.5 932.9,1074.5 933.6,1074.0 934.3,1075.5 935.0,1071.4 935.7,1071.0 936.4,1066.3 937.1,1068.9 937.8,1067.1 938.5,1061.7 939.2,1057.9 939.9,1057.6 940.6,1061.8 941.3,1060.7 942.0,1056.9 942.7,1061.0 943.4,1063.1 944.1,1060.5 944.8,1060.1 945.5,1064.1 946.2,1067.0 946.9,1067.5 947.6,1063.2 948.3,1068.2 949.0,1067.9 949.7,1068.4 950.4,1068.7 951.1,1072.6 951.8,1071.8 952.5,1076.7 953.2,1076.5 953.9,1079.3 954.6,1074.8 955.3,1078.8 955.9,1081.8 956.6,1082.0 957.3,1082.9 958.0,1081.8 958.7,1088.9 959.4,1088.7 960.1,1088.1 960.8,1081.7 961.5,1086.8 962.2,1090.4 962.9,1089.0 963.6,1086.2 964.3,1092.5 965.0,1093.1 965.7,1089.1 966.4,1090.6 967.1,1089.7 967.8,1092.1 968.5,1085.0 969.2,1084.7 969.9,1086.6 970.6,1085.1 971.3,1090.9 972.0,1082.8 972.7,1083.6 973.4,1080.7 974.1,1078.7 974.8,1080.0 975.5,1082.2 976.2,1075.7 976.9,1077.3 977.6,1075.2 978.3,1075.0 979.0,1073.3 979.7,1077.3 980.4,1067.1 981.1,1068.4 981.8,1065.0 982.5,1061.6 983.2,1065.4 983.9,1068.9 984.5,1065.4 985.2,1065.0 985.9,1062.1 986.6,1059.6 987.3,1064.1 988.0,1057.2 988.7,1061.3 989.4,1056.0 990.1,1056.6 990.8,1056.8 991.5,1056.1 992.2,1057.4 992.9,1058.0 993.6,1061.5 994.3,1058.3 995.0,1054.6 995.7,1055.7 996.4,1059.0 997.1,1062.3 997.8,1067.7 998.5,1064.2 999.2,1070.0 999.9,1072.0 1000.6,1074.6 1001.3,1075.5 1002.0,1078.8 1002.7,1079.6 1003.4,1083.8 1004.1,1083.5 1004.8,1078.3 1005.5,1086.0 1006.2,1087.6 1006.9,1086.1 1007.6,1086.1 1008.3,1091.3 1009.0,1089.4 1009.7,1086.9 1010.4,1088.9 1011.1,1089.6 1011.8,1086.0 1012.5,1091.8 1013.1,1089.7 1013.8,1091.3 1014.5,1086.2 1015.2,1095.1 1015.9,1091.8 1016.6,1091.5 1017.3,1088.4 1018.0,1088.5 1018.7,1086.4 1019.4,1094.0 1020.1,1087.9 1020.8,1090.4 1021.5,1091.8 1022.2,1089.3 1022.9,1093.6 1023.6,1097.0 1024.3,1093.0 1025.0,1096.3 1025.7,1094.5 1026.4,1092.1 1027.1,1092.5 1027.8,1089.4 1028.5,1094.2 1029.2,1097.8 1029.9,1096.0 1030.6,1096.6 1031.3,1097.6 1032.0,1093.5 1032.7,1096.5 1033.4,1100.1 1034.1,1093.4 1034.8,1095.6 1035.5,1094.6 1036.2,1095.4 1036.9,1094.2 1037.6,1095.9 1038.3,1093.0 1039.0,1095.2 1039.7,1095.4 1040.4,1095.5 1041.1,1100.5 1041.7,1097.3 1042.4,1097.7 1043.1,1096.8 1043.8,1101.1 1044.5,1093.7 1045.2,1097.9 1045.9,1101.6 1046.6,1103.2 1047.3,1099.8 1048.0,1099.6 1048.7,1101.5 1049.4,1099.7 1050.1,1101.9 1050.8,1099.1 1051.5,1102.7 1052.2,1101.3 1052.9,1099.0 1053.6,1093.9 1054.3,1102.1 1055.0,1099.8 1055.7,1100.0 1056.4,1095.2 1057.1,1099.5 1057.8,1097.3 1058.5,1095.7 1059.2,1097.7 1059.9,1097.3 1060.6,1097.6 1061.3,1103.4 1062.0,1103.4 1062.7,1102.4 1063.4,1102.9 1064.1,1105.9 1064.8,1112.2 1065.5,1111.2 1066.2,1110.5 1066.9,1113.6 1067.6,1117.9 1068.3,1123.0 1069.0,1122.0 1069.7,1128.1 1070.3,1132.4 1071.0,1134.4 1071.7,1131.7 1072.4,1138.2 1073.1,1139.0 1073.8,1146.3 1074.5,1145.4 1075.2,1151.7 1075.9,1152.2 1076.6,1146.5 1077.3,1151.9 1078.0,1156.2 1078.7,1156.0 1079.4,1155.4 1080.1,1153.1 1080.8,1157.5 1081.5,1160.6 1082.2,1156.8 1082.9,1155.9 1083.6,1155.6 1084.3,1152.4 1085.0,1154.8 1085.7,1153.4 1086.4,1158.0 1087.1,1152.7 1087.8,1149.1 1088.5,1152.1 1089.2,1152.9 1089.9,1152.6 1090.6,1147.9 1091.3,1154.2 1092.0,1151.5 1092.7,1149.3 1093.4,1147.9" stroke="#ff7a1a" stroke-width="1.5" fill="none" stroke-linejoin="round"/>
<path d="M605.2,1017.7 605.7,1002.3 606.2,1010.3 606.6,1000.0 607.1,983.9 607.6,990.0 608.0,986.8 608.5,987.1 609.0,989.0 609.4,989.6 609.9,990.0 610.4,975.8 610.8,995.7 611.3,965.6 611.8,979.4 612.2,987.0 612.7,982.6 613.1,983.6 613.6,972.8 614.1,982.3 614.5,959.9 615.0,982.2 615.5,999.6 615.9,981.8 616.4,997.1 616.9,974.6 617.3,962.4 617.8,968.0 618.3,992.2 618.7,986.3 619.2,957.6 619.7,975.6 620.1,980.3 620.6,969.1 621.1,954.1 621.5,969.1 622.0,984.2 622.5,983.4 622.9,982.1 623.4,998.4 623.8,1005.5 624.3,994.4 624.8,1008.1 625.2,999.6 625.7,999.7 626.2,975.2 626.6,1014.3 627.1,1007.5 627.6,1009.6 628.0,1004.3 628.5,998.9 629.0,1018.6 629.4,1024.1 629.9,1035.2 630.4,1028.7 630.8,1013.7 631.3,1020.9 631.8,1034.5 632.2,1028.9 632.7,1025.9 633.1,1022.2 633.6,1035.7 634.1,1033.3 634.5,1051.6 635.0,1045.5 635.5,1017.1 635.9,1058.7 636.4,1040.4 636.9,1036.0 637.3,1043.5 637.8,1049.3 638.3,1042.9 638.7,1043.7 639.2,1045.7 639.7,1065.0 640.1,1049.0 640.6,1057.3 641.1,1055.6 641.5,1049.4 642.0,1046.9 642.4,1046.0 642.9,1060.9 643.4,1048.9 643.8,1048.1 644.3,1049.9 644.8,1048.9 645.2,1064.4 645.7,1065.7 646.2,1057.6 646.6,1078.2 647.1,1064.7 647.6,1071.6 648.0,1070.4 648.5,1082.6 649.0,1075.2 649.4,1067.9 649.9,1060.2 650.4,1059.5 650.8,1068.5 651.3,1069.4 651.7,1074.6 652.0,1064.5 652.7,1069.6 653.4,1062.7 654.1,1053.8 654.8,1067.4 655.5,1078.2 656.2,1073.1 656.9,1077.1 657.6,1074.9 658.3,1057.9 659.0,1065.7 659.7,1077.5 660.4,1063.5 661.0,1059.9 661.7,1070.2 662.4,1072.2 663.1,1070.2 663.8,1066.6 664.5,1064.7 665.2,1061.7 665.9,1061.8 666.6,1062.3 667.3,1061.7 668.0,1066.4 668.7,1079.9 669.4,1072.5 670.1,1070.0 670.8,1073.3 671.5,1065.1 672.2,1072.3 672.9,1075.4 673.6,1061.6 674.3,1066.3 675.0,1069.2 675.7,1065.4 676.4,1065.0 677.1,1069.6 677.8,1086.4 678.5,1076.2 679.2,1075.1 679.9,1078.3 680.6,1071.3 681.3,1065.3 682.0,1075.0 682.7,1078.8 683.4,1060.2 684.1,1074.7 684.8,1079.1 685.5,1070.4 686.2,1069.1 686.9,1075.4 687.6,1066.2 688.3,1073.1 689.0,1075.0 689.6,1067.7 690.3,1063.2 691.0,1070.4 691.7,1063.5 692.4,1064.8 693.1,1046.4 693.8,1065.6 694.5,1051.9 695.2,1058.8 695.9,1057.7 696.6,1051.2 697.3,1048.5 698.0,1044.7 698.7,1048.5 699.4,1052.3 700.1,1050.4 700.8,1045.1 701.5,1045.5 702.2,1041.5 702.9,1048.1 703.6,1045.2 704.3,1043.5 705.0,1052.4 705.7,1063.0 706.4,1062.2 707.1,1064.7 707.8,1047.9 708.5,1063.2 709.2,1052.0 709.9,1056.7 710.6,1051.0 711.3,1056.1 712.0,1063.4 712.7,1064.8 713.4,1063.9 714.1,1064.0 714.8,1068.8 715.5,1066.4 716.2,1056.1 716.9,1073.5 717.6,1059.8 718.2,1064.2 718.9,1055.1 719.6,1048.4 720.3,1050.7 721.0,1042.7 721.7,1053.3 722.4,1034.3 723.1,1040.8 723.8,1030.5 724.5,1029.8 725.2,1042.0 725.9,1028.6 726.6,1020.2 727.3,1010.2 728.0,1014.3 728.7,1010.8 729.4,1015.8 730.1,997.1 730.8,991.5 731.5,996.9 732.2,994.5 732.9,998.0 733.6,982.2 734.3,970.3 735.0,977.2 735.7,972.1 736.4,973.2 737.1,978.2 737.8,965.3 738.5,975.1 739.2,968.4 739.9,965.3 740.6,963.2 741.3,965.8 742.0,966.3 742.7,971.4 743.4,973.6 744.1,967.5 744.8,969.6 745.5,970.4 746.2,968.2 746.8,963.0 747.5,965.8 748.2,961.4 748.9,960.0 749.6,951.4 750.3,948.8 751.0,942.2 751.7,952.3 752.4,948.1 753.1,941.8 753.8,943.6 754.5,942.5 755.2,935.7 755.9,940.4 756.6,941.9 757.3,942.3 758.0,938.5 758.7,939.5 759.4,944.9 760.1,944.6 760.8,940.2 761.5,939.8 762.2,942.6 762.9,939.0 763.6,938.9 764.3,944.7 765.0,940.8 765.7,938.8 766.4,941.3 767.1,945.3 767.8,940.5 768.5,937.9 769.2,935.9 769.9,945.7 770.6,933.4 771.3,943.1 772.0,937.8 772.7,937.2 773.4,937.9 774.1,940.2 774.8,943.6 775.4,939.1 776.1,942.6 776.8,947.4 777.5,933.7 778.2,939.2 778.9,936.4 779.6,943.6 780.3,936.3 781.0,934.8 781.7,933.7 782.4,936.6 783.1,938.2 783.8,934.0 784.5,937.5 785.2,934.4 785.9,927.8 786.6,928.6 787.3,924.4 788.0,922.1 788.7,914.8 789.4,914.3 790.1,915.6 790.8,910.3 791.5,913.8 792.2,912.2 792.9,908.3 793.6,913.2 794.3,909.9 795.0,911.8 795.7,907.3 796.4,902.6 797.1,908.7 797.8,906.4 798.5,909.5 799.2,910.6 799.9,911.3 800.6,904.9 801.3,903.3 802.0,909.1 802.7,913.3 803.4,909.8 804.0,912.0 804.7,908.7 805.4,909.8 806.1,909.7 806.8,908.8 807.5,911.9 808.2,911.6 808.9,915.2 809.6,912.0 810.3,914.3 811.0,910.8 811.7,912.8 812.4,909.9 813.1,908.9 813.8,913.6 814.5,911.8 815.2,912.0 815.9,907.4 816.6,904.8 817.3,906.9 818.0,909.9 818.7,905.2 819.4,912.9 820.1,905.2 820.8,910.8 821.5,916.4 822.2,902.5 822.9,905.5 823.6,913.1 824.3,912.1 825.0,915.2 825.7,916.5 826.4,922.6 827.1,922.6 827.8,921.7 828.5,924.4 829.2,923.9 829.9,928.7 830.6,924.8 831.3,934.6 832.0,933.9 832.6,941.3 833.3,941.4 834.0,936.4 834.7,943.9 835.4,941.7 836.1,944.8 836.8,948.8 837.5,948.6 838.2,950.5 838.9,952.0 839.6,950.4 840.3,952.2 841.0,956.7 841.7,958.5 842.4,956.4 843.1,958.3 843.8,956.5 844.5,953.4 845.2,959.2 845.9,962.7 846.6,964.4 847.3,967.5 848.0,969.1 848.7,970.9 849.4,971.1 850.1,973.2 850.8,972.4 851.5,977.7 852.2,979.7 852.9,985.0 853.6,980.5 854.3,986.3 855.0,986.0 855.7,991.7 856.4,993.0 857.1,1000.6 857.8,1001.3 858.5,999.5 859.2,1013.2 859.9,1011.1 860.6,1014.2 861.2,1022.1 861.9,1025.9 862.6,1029.3 863.3,1039.0 864.0,1040.7 864.7,1048.3 865.4,1051.6 866.1,1054.8 866.8,1056.4 867.5,1057.8 868.2,1058.8 868.9,1065.5 869.6,1058.3 870.3,1062.2 871.0,1064.9 871.7,1069.3 872.4,1069.9 873.1,1069.5 873.8,1071.0 874.5,1077.4 875.2,1071.8 875.9,1066.6 876.6,1079.4 877.3,1072.0 878.0,1072.6 878.7,1072.5 879.4,1067.0 880.1,1072.1 880.8,1066.8 881.5,1061.6 882.2,1064.0 882.9,1062.6 883.6,1059.2 884.3,1058.7 885.0,1051.4 885.7,1055.9 886.4,1049.2 887.1,1053.0 887.8,1046.0 888.5,1046.0 889.2,1050.5 889.8,1042.5 890.5,1045.7 891.2,1044.4 891.9,1039.6 892.6,1047.1 893.3,1047.7 894.0,1042.0 894.7,1046.6 895.4,1044.3 896.1,1049.1 896.8,1054.0 897.5,1053.8 898.2,1052.4 898.9,1055.2 899.6,1058.4 900.3,1059.0 901.0,1060.3 901.7,1062.4 902.4,1056.8 903.1,1062.9 903.8,1066.9 904.5,1066.2 905.2,1064.1 905.9,1065.3 906.6,1068.4 907.3,1070.8 908.0,1070.2 908.7,1076.2 909.4,1076.9 910.1,1073.1 910.8,1078.4 911.5,1078.0 912.2,1077.7 912.9,1080.9 913.6,1084.2 914.3,1079.9 915.0,1084.9 915.7,1088.3 916.4,1085.7 917.1,1086.6 917.8,1090.4 918.4,1088.1 919.1,1088.5 919.8,1092.9 920.5,1087.4 921.2,1086.9 921.9,1086.2 922.6,1088.2 923.3,1083.5 924.0,1081.3 924.7,1079.4 925.4,1081.2 926.1,1075.0 926.8,1078.5 927.5,1074.4 928.2,1069.1 928.9,1073.1 929.6,1071.6 930.3,1066.5 931.0,1069.6 931.7,1068.7 932.4,1066.5 933.1,1063.5 933.8,1071.3 934.5,1066.8 935.2,1066.4 935.9,1065.8 936.6,1064.4 937.3,1063.7 938.0,1060.0 938.7,1062.7 939.4,1059.6 940.1,1058.6 940.8,1061.5 941.5,1059.3 942.2,1055.6 942.9,1059.6 943.6,1062.4 944.3,1061.2 945.0,1064.0 945.7,1061.7 946.4,1061.1 947.0,1066.6 947.7,1066.3 948.4,1064.1 949.1,1069.8 949.8,1069.5 950.5,1074.1 951.2,1075.1 951.9,1075.7 952.6,1070.1 953.3,1078.0 954.0,1079.4 954.7,1080.6 955.4,1080.7 956.1,1079.9 956.8,1082.3 957.5,1078.8 958.2,1084.9 958.9,1083.0 959.6,1087.3 960.3,1087.7 961.0,1094.1 961.7,1091.7 962.4,1092.5 963.1,1093.7 963.8,1099.3 964.5,1091.9 965.2,1095.5 965.9,1095.5 966.6,1094.2 967.3,1093.1 968.0,1090.3 968.7,1093.3 969.4,1091.0 970.1,1086.3 970.8,1085.0 971.5,1084.7 972.2,1083.4 972.9,1082.3 973.6,1078.5 974.3,1073.4 975.0,1077.4 975.6,1069.0 976.3,1069.0 977.0,1070.6 977.7,1065.8 978.4,1069.7 979.1,1068.5 979.8,1065.4 980.5,1061.0 981.2,1058.8 981.9,1057.1 982.6,1053.4 983.3,1057.1 984.0,1048.2 984.7,1051.1 985.4,1047.1 986.1,1044.5 986.8,1044.5 987.5,1043.3 988.2,1040.6 988.9,1036.5 989.6,1036.0 990.3,1037.6 991.0,1043.3 991.7,1044.6 992.4,1047.0 993.1,1045.8 993.8,1054.8 994.5,1049.3 995.2,1056.2 995.9,1059.1 996.6,1058.6 997.3,1059.2 998.0,1063.6 998.7,1064.4 999.4,1069.4 1000.1,1069.3 1000.8,1071.9 1001.5,1078.0 1002.2,1076.6 1002.9,1082.3 1003.6,1084.8 1004.2,1089.6 1004.9,1090.3 1005.6,1089.9 1006.3,1095.7 1007.0,1090.4 1007.7,1091.0 1008.4,1090.9 1009.1,1096.9 1009.8,1091.2 1010.5,1088.8 1011.2,1091.9 1011.9,1089.0 1012.6,1094.6 1013.3,1085.9 1014.0,1088.9 1014.7,1084.6 1015.4,1091.2 1016.1,1084.3 1016.8,1086.3 1017.5,1083.1 1018.2,1087.1 1018.9,1085.8 1019.6,1077.9 1020.3,1085.3 1021.0,1084.6 1021.7,1085.3 1022.4,1088.9 1023.1,1085.0 1023.8,1085.2 1024.5,1093.1 1025.2,1097.4 1025.9,1091.4 1026.6,1093.1 1027.3,1095.3 1028.0,1095.8 1028.7,1102.4 1029.4,1102.0 1030.1,1106.8 1030.8,1108.7 1031.5,1104.3 1032.2,1110.3 1032.8,1104.5 1033.5,1112.0 1034.2,1115.6 1034.9,1113.6 1035.6,1112.8 1036.3,1117.9 1037.0,1124.1 1037.7,1121.7 1038.4,1120.9 1039.1,1127.5 1039.8,1129.9 1040.5,1127.1 1041.2,1131.1 1041.9,1136.0 1042.6,1135.1 1043.3,1134.7 1044.0,1130.5 1044.7,1129.6 1045.4,1125.5 1046.1,1125.2 1046.8,1129.6 1047.5,1123.1 1048.2,1120.4 1048.9,1120.1 1049.6,1117.2 1050.3,1119.9 1051.0,1119.5 1051.7,1113.3 1052.4,1117.0 1053.1,1118.3 1053.8,1107.8 1054.5,1110.2 1055.2,1107.1 1055.9,1108.0 1056.6,1106.0 1057.3,1103.8 1058.0,1100.1 1058.7,1096.6 1059.4,1101.9 1060.1,1093.1 1060.8,1099.3 1061.4,1100.2 1062.1,1096.9 1062.8,1100.2 1063.5,1105.5 1064.2,1098.5 1064.9,1107.3 1065.6,1106.4 1066.3,1108.6 1067.0,1107.6 1067.7,1115.0 1068.4,1114.5 1069.1,1122.3 1069.8,1120.6 1070.5,1128.6 1071.2,1130.8 1071.9,1128.5 1072.6,1136.1 1073.3,1140.2 1074.0,1138.0 1074.7,1145.8 1075.4,1151.2 1076.1,1149.0 1076.8,1155.3 1077.5,1150.6 1078.2,1151.6 1078.9,1157.4 1079.6,1157.7 1080.3,1155.5 1081.0,1155.7 1081.7,1158.0 1082.4,1153.8 1083.1,1160.2 1083.8,1155.8 1084.5,1155.5 1085.2,1154.8 1085.9,1153.0 1086.6,1156.5 1087.3,1151.3 1088.0,1152.7 1088.7,1153.3 1089.4,1154.5 1090.0,1153.3 1090.7,1148.6 1091.4,1151.2 1092.1,1147.7 1092.8,1144.3 1093.5,1143.5" stroke="#f02020" stroke-width="1.5" fill="none" stroke-linejoin="round"/>
<path d="M604.9,1018.7 605.4,1018.0 605.9,1024.1 606.3,1026.5 606.8,1029.0 607.3,989.2 607.7,1025.2 608.2,989.9 608.7,999.7 609.1,1009.5 609.6,1017.2 610.1,989.9 610.5,980.2 611.0,1009.8 611.5,1000.9 611.9,983.6 612.4,990.7 612.9,970.0 613.3,999.0 613.8,985.1 614.2,1005.5 614.7,966.0 615.2,998.9 615.6,1016.4 616.1,992.4 616.6,993.1 617.0,969.8 617.5,997.0 618.0,994.1 618.4,988.0 618.9,977.4 619.4,997.8 619.8,985.9 620.3,993.2 620.8,1004.0 621.2,1001.1 621.7,1003.3 622.2,1016.1 622.6,993.0 623.1,1025.4 623.5,997.4 624.0,1002.0 624.5,1016.3 624.9,1026.2 625.4,1021.9 625.9,1015.6 626.3,1014.4 626.8,1021.5 627.3,1015.0 627.7,1035.0 628.2,1027.5 628.7,1050.4 629.1,1025.1 629.6,1034.0 630.1,1042.4 630.5,1026.2 631.0,1033.4 631.5,1074.7 631.9,1044.3 632.4,1062.6 632.8,1036.2 633.3,1022.3 633.8,1056.8 634.2,1051.8 634.7,1056.7 635.2,1051.6 635.6,1049.8 636.1,1044.3 636.6,1069.5 637.0,1043.9 637.5,1071.1 638.0,1059.8 638.4,1051.9 638.9,1057.6 639.4,1075.4 639.8,1074.1 640.3,1072.8 640.8,1069.8 641.2,1059.3 641.7,1084.4 642.2,1068.6 642.6,1068.6 643.1,1070.5 643.5,1072.7 644.0,1064.1 644.5,1074.9 644.9,1072.7 645.4,1076.4 645.9,1066.1 646.3,1099.9 646.8,1071.3 647.3,1084.9 647.7,1084.7 648.2,1090.3 648.7,1097.4 649.1,1084.0 649.6,1085.9 650.1,1075.2 650.5,1091.1 651.0,1066.1 651.5,1075.1 651.9,1078.6 652.1,1081.9 652.8,1081.3 653.5,1082.6 654.2,1076.7 654.9,1071.2 655.6,1071.3 656.3,1079.0 657.0,1069.4 657.7,1072.5 658.4,1064.0 659.1,1051.3 659.8,1058.4 660.5,1063.1 661.2,1069.8 661.9,1066.8 662.6,1066.8 663.3,1050.9 664.0,1058.1 664.7,1051.8 665.4,1054.4 666.1,1048.9 666.8,1040.0 667.5,1051.1 668.2,1048.1 668.9,1049.9 669.6,1039.3 670.3,1050.5 671.0,1051.9 671.7,1054.3 672.4,1055.7 673.1,1046.1 673.8,1035.3 674.5,1057.9 675.2,1048.3 675.9,1054.2 676.6,1064.0 677.3,1061.0 678.0,1062.6 678.7,1067.0 679.4,1053.3 680.1,1077.3 680.7,1065.2 681.4,1066.7 682.1,1073.3 682.8,1070.3 683.5,1067.3 684.2,1072.8 684.9,1072.4 685.6,1071.9 686.3,1089.0 687.0,1069.4 687.7,1065.6 688.4,1073.9 689.1,1074.3 689.8,1088.7 690.5,1080.9 691.2,1084.6 691.9,1082.9 692.6,1073.3 693.3,1083.1 694.0,1078.5 694.7,1088.3 695.4,1077.3 696.1,1075.0 696.8,1078.9 697.5,1078.1 698.2,1062.0 698.9,1079.2 699.6,1077.4 700.3,1075.0 701.0,1062.4 701.7,1056.2 702.4,1065.7 703.1,1071.0 703.8,1068.5 704.5,1058.9 705.2,1069.7 705.9,1055.2 706.6,1054.6 707.3,1061.8 708.0,1057.7 708.7,1056.3 709.3,1050.9 710.0,1065.4 710.7,1051.5 711.4,1059.8 712.1,1061.2 712.8,1055.2 713.5,1056.0 714.2,1059.5 714.9,1062.0 715.6,1057.0 716.3,1041.8 717.0,1037.4 717.7,1043.5 718.4,1038.4 719.1,1046.3 719.8,1041.4 720.5,1036.9 721.2,1042.4 721.9,1039.2 722.6,1030.2 723.3,1029.9 724.0,1031.4 724.7,1020.5 725.4,1021.6 726.1,1012.0 726.8,1015.3 727.5,1014.7 728.2,1010.4 728.9,1010.0 729.6,1010.5 730.3,1007.0 731.0,998.9 731.7,997.5 732.4,992.4 733.1,1005.6 733.8,997.5 734.5,996.2 735.2,992.3 735.9,994.9 736.6,995.4 737.3,989.6 737.9,992.8 738.6,999.4 739.3,988.6 740.0,990.6 740.7,998.0 741.4,992.2 742.1,999.3 742.8,991.4 743.5,996.5 744.2,997.4 744.9,993.6 745.6,992.8 746.3,986.2 747.0,983.3 747.7,980.7 748.4,979.7 749.1,987.5 749.8,971.3 750.5,975.3 751.2,965.7 751.9,960.1 752.6,959.9 753.3,959.0 754.0,955.4 754.7,952.5 755.4,951.0 756.1,948.8 756.8,947.7 757.5,940.9 758.2,943.2 758.9,940.3 759.6,943.0 760.3,941.7 761.0,941.9 761.7,939.9 762.4,938.6 763.1,939.8 763.8,941.8 764.5,941.9 765.2,935.4 765.9,940.3 766.5,940.2 767.2,935.6 767.9,936.6 768.6,938.1 769.3,940.6 770.0,933.5 770.7,938.6 771.4,938.3 772.1,940.2 772.8,943.4 773.5,943.3 774.2,938.8 774.9,938.9 775.6,940.6 776.3,943.0 777.0,943.0 777.7,937.6 778.4,938.1 779.1,929.6 779.8,926.5 780.5,919.7 781.2,922.3 781.9,925.6 782.6,926.8 783.3,933.8 784.0,926.6 784.7,925.5 785.4,922.5 786.1,923.2 786.8,923.0 787.5,923.7 788.2,922.2 788.9,919.8 789.6,925.9 790.3,924.0 791.0,926.2 791.7,918.4 792.4,919.2 793.1,920.6 793.8,925.5 794.5,921.8 795.1,922.6 795.8,921.6 796.5,922.1 797.2,920.1 797.9,922.3 798.6,919.1 799.3,920.7 800.0,922.2 800.7,922.0 801.4,923.3 802.1,920.6 802.8,924.2 803.5,921.9 804.2,922.5 804.9,924.4 805.6,917.4 806.3,921.7 807.0,916.5 807.7,916.6 808.4,921.5 809.1,919.2 809.8,917.7 810.5,918.2 811.2,918.8 811.9,913.6 812.6,915.9 813.3,914.0 814.0,915.9 814.7,913.7 815.4,916.1 816.1,913.9 816.8,912.1 817.5,913.2 818.2,915.8 818.9,918.7 819.6,916.8 820.3,917.8 821.0,920.8 821.7,923.5 822.4,921.6 823.1,918.1 823.7,926.8 824.4,926.7 825.1,928.1 825.8,937.2 826.5,931.8 827.2,935.4 827.9,931.5 828.6,937.2 829.3,939.9 830.0,939.9 830.7,940.3 831.4,943.4 832.1,943.4 832.8,947.9 833.5,946.0 834.2,944.5 834.9,942.5 835.6,946.8 836.3,948.9 837.0,947.5 837.7,948.9 838.4,948.3 839.1,950.8 839.8,954.9 840.5,954.9 841.2,956.2 841.9,957.0 842.6,958.3 843.3,962.0 844.0,966.7 844.7,964.3 845.4,969.1 846.1,965.1 846.8,966.7 847.5,972.6 848.2,968.2 848.9,969.5 849.6,973.5 850.3,971.6 851.0,973.5 851.7,984.0 852.3,980.9 853.0,985.3 853.7,988.4 854.4,990.1 855.1,997.6 855.8,1000.5 856.5,1004.4 857.2,1007.6 857.9,1009.2 858.6,1016.2 859.3,1019.0 860.0,1019.2 860.7,1025.4 861.4,1029.1 862.1,1039.8 862.8,1041.9 863.5,1046.1 864.2,1049.1 864.9,1055.0 865.6,1055.0 866.3,1061.0 867.0,1063.6 867.7,1065.8 868.4,1066.0 869.1,1070.9 869.8,1068.7 870.5,1072.3 871.2,1074.8 871.9,1076.7 872.6,1077.0 873.3,1077.1 874.0,1078.5 874.7,1081.0 875.4,1080.5 876.1,1083.1 876.8,1080.6 877.5,1084.1 878.2,1089.3 878.9,1080.3 879.6,1083.1 880.3,1085.9 880.9,1082.8 881.6,1083.8 882.3,1075.4 883.0,1078.7 883.7,1083.2 884.4,1077.0 885.1,1078.6 885.8,1071.8 886.5,1078.7 887.2,1081.0 887.9,1074.3 888.6,1074.6 889.3,1073.8 890.0,1077.3 890.7,1069.7 891.4,1065.6 892.1,1074.0 892.8,1065.4 893.5,1069.3 894.2,1061.5 894.9,1066.4 895.6,1068.1 896.3,1065.2 897.0,1067.2 897.7,1070.7 898.4,1068.2 899.1,1072.3 899.8,1076.6 900.5,1067.9 901.2,1075.3 901.9,1077.2 902.6,1076.1 903.3,1082.4 904.0,1083.3 904.7,1082.5 905.4,1083.9 906.1,1083.8 906.8,1082.4 907.5,1087.9 908.2,1087.1 908.9,1088.7 909.5,1095.1 910.2,1093.9 910.9,1099.2 911.6,1096.3 912.3,1100.1 913.0,1103.3 913.7,1108.6 914.4,1106.5 915.1,1110.1 915.8,1107.3 916.5,1110.0 917.2,1111.6 917.9,1106.4 918.6,1105.9 919.3,1108.0 920.0,1101.9 920.7,1103.9 921.4,1101.9 922.1,1098.7 922.8,1098.6 923.5,1095.4 924.2,1092.2 924.9,1085.3 925.6,1082.8 926.3,1084.7 927.0,1077.4 927.7,1079.2 928.4,1075.7 929.1,1072.2 929.8,1071.6 930.5,1064.2 931.2,1068.0 931.9,1070.0 932.6,1061.7 933.3,1064.2 934.0,1062.0 934.7,1067.1 935.4,1054.9 936.1,1053.5 936.8,1051.8 937.5,1049.6 938.1,1046.1 938.8,1049.0 939.5,1045.1 940.2,1048.2 940.9,1046.1 941.6,1041.5 942.3,1042.5 943.0,1046.5 943.7,1042.3 944.4,1044.1 945.1,1046.4 945.8,1044.1 946.5,1047.3 947.2,1051.5 947.9,1051.6 948.6,1045.6 949.3,1055.5 950.0,1052.5 950.7,1053.1 951.4,1054.5 952.1,1060.7 952.8,1059.8 953.5,1059.8 954.2,1059.3 954.9,1064.1 955.6,1066.7 956.3,1062.4 957.0,1063.5 957.7,1066.7 958.4,1070.6 959.1,1069.3 959.8,1071.3 960.5,1070.7 961.2,1077.2 961.9,1074.7 962.6,1076.4 963.3,1079.6 964.0,1076.8 964.7,1077.8 965.4,1079.2 966.1,1077.1 966.7,1081.5 967.4,1077.6 968.1,1075.7 968.8,1075.4 969.5,1072.5 970.2,1077.5 970.9,1077.2 971.6,1071.6 972.3,1069.9 973.0,1064.5 973.7,1067.1 974.4,1069.8 975.1,1064.3 975.8,1067.4 976.5,1068.0 977.2,1056.4 977.9,1060.8 978.6,1058.0 979.3,1056.6 980.0,1051.5 980.7,1053.5 981.4,1049.1 982.1,1052.9 982.8,1051.9 983.5,1042.6 984.2,1040.5 984.9,1041.1 985.6,1039.9 986.3,1038.3 987.0,1038.7 987.7,1031.4 988.4,1032.1 989.1,1031.0 989.8,1030.1 990.5,1029.9 991.2,1033.4 991.9,1035.0 992.6,1042.4 993.3,1040.8 994.0,1039.6 994.7,1049.8 995.3,1051.2 996.0,1050.8 996.7,1053.1 997.4,1056.5 998.1,1064.9 998.8,1062.2 999.5,1069.3 1000.2,1071.1 1000.9,1070.3 1001.6,1075.2 1002.3,1074.9 1003.0,1071.3 1003.7,1079.8 1004.4,1082.3 1005.1,1088.8 1005.8,1090.6 1006.5,1093.3 1007.2,1093.5 1007.9,1096.6 1008.6,1097.0 1009.3,1097.4 1010.0,1100.8 1010.7,1103.3 1011.4,1104.4 1012.1,1100.9 1012.8,1103.0 1013.5,1101.5 1014.2,1102.7 1014.9,1107.6 1015.6,1106.3 1016.3,1113.0 1017.0,1104.7 1017.7,1108.7 1018.4,1113.5 1019.1,1117.1 1019.8,1114.3 1020.5,1121.2 1021.2,1119.5 1021.9,1116.6 1022.6,1119.3 1023.3,1121.8 1023.9,1119.0 1024.6,1125.0 1025.3,1122.4 1026.0,1125.2 1026.7,1126.9 1027.4,1124.2 1028.1,1128.6 1028.8,1121.8 1029.5,1128.9 1030.2,1122.9 1030.9,1130.1 1031.6,1124.9 1032.3,1128.8 1033.0,1128.4 1033.7,1123.7 1034.4,1121.5 1035.1,1125.7 1035.8,1118.6 1036.5,1122.9 1037.2,1119.7 1037.9,1118.2 1038.6,1116.8 1039.3,1122.1 1040.0,1112.5 1040.7,1114.4 1041.4,1116.1 1042.1,1116.8 1042.8,1117.7 1043.5,1116.0 1044.2,1110.2 1044.9,1111.6 1045.6,1113.1 1046.3,1111.8 1047.0,1106.7 1047.7,1111.9 1048.4,1112.8 1049.1,1108.1 1049.8,1110.7 1050.5,1112.0 1051.2,1114.0 1051.9,1116.8 1052.5,1116.1 1053.2,1115.1 1053.9,1115.7 1054.6,1115.7 1055.3,1116.7 1056.0,1119.1 1056.7,1120.8 1057.4,1125.8 1058.1,1130.6 1058.8,1128.3 1059.5,1131.3 1060.2,1132.6 1060.9,1133.6 1061.6,1138.1 1062.3,1139.7 1063.0,1138.3 1063.7,1139.1 1064.4,1142.6 1065.1,1141.3 1065.8,1144.9 1066.5,1148.9 1067.2,1148.0 1067.9,1145.2 1068.6,1153.7 1069.3,1149.2 1070.0,1148.7 1070.7,1148.4 1071.4,1154.7 1072.1,1147.9 1072.8,1153.3 1073.5,1154.6 1074.2,1154.7 1074.9,1152.3 1075.6,1153.0 1076.3,1152.3 1077.0,1148.2 1077.7,1153.0 1078.4,1153.4 1079.1,1148.2 1079.8,1147.9 1080.5,1146.4 1081.1,1151.4 1081.8,1145.3 1082.5,1146.3 1083.2,1142.4 1083.9,1149.5 1084.6,1145.2 1085.3,1145.8 1086.0,1148.5 1086.7,1145.5 1087.4,1139.9 1088.1,1143.1 1088.8,1142.8 1089.5,1137.7 1090.2,1136.3 1090.9,1135.2 1091.6,1139.2 1092.3,1137.1 1093.0,1134.2 1093.7,1138.2" stroke="#22e022" stroke-width="1.5" fill="none" stroke-linejoin="round"/>
<path d="M605.1,993.9 605.6,1027.4 606.0,1010.6 606.5,1011.9 607.0,1001.4 607.4,1004.4 607.9,996.9 608.4,1008.1 608.8,1001.2 609.3,1008.0 609.8,1006.3 610.2,998.6 610.7,996.9 611.2,1007.4 611.6,973.7 612.1,992.2 612.6,1005.5 613.0,975.2 613.5,995.8 614.0,980.3 614.4,985.9 614.9,982.4 615.3,983.3 615.8,992.3 616.3,985.5 616.7,962.7 617.2,1013.4 617.7,987.2 618.1,983.8 618.6,1002.2 619.1,1006.9 619.5,966.6 620.0,997.3 620.5,969.7 620.9,989.1 621.4,996.0 621.9,992.9 622.3,992.8 622.8,988.3 623.3,998.9 623.7,1004.2 624.2,1005.8 624.6,994.1 625.1,1002.3 625.6,1025.5 626.0,1023.1 626.5,1013.6 627.0,1026.5 627.4,1025.4 627.9,1033.9 628.4,1027.6 628.8,1021.4 629.3,1016.6 629.8,1029.8 630.2,1007.9 630.7,1034.3 631.2,999.0 631.6,1025.6 632.1,1033.0 632.6,1045.7 633.0,1072.9 633.5,1045.0 633.9,1042.8 634.4,1025.3 634.9,1062.2 635.3,1028.3 635.8,1052.6 636.3,1043.5 636.7,1078.9 637.2,1052.0 637.7,1058.1 638.1,1048.6 638.6,1055.8 639.1,1069.3 639.5,1049.3 640.0,1052.9 640.5,1055.0 640.9,1052.2 641.4,1052.5 641.9,1064.7 642.3,1078.9 642.8,1080.3 643.2,1055.5 643.7,1062.9 644.2,1069.8 644.6,1075.9 645.1,1072.5 645.6,1073.5 646.0,1077.6 646.5,1081.4 647.0,1056.3 647.4,1073.8 647.9,1081.2 648.4,1087.3 648.8,1082.1 649.3,1069.6 649.8,1069.2 650.2,1077.3 650.7,1074.8 651.2,1077.6 651.6,1083.9 652.1,1063.9 652.3,1071.4 653.0,1054.2 653.7,1079.3 654.4,1074.0 655.1,1065.8 655.8,1073.7 656.5,1081.4 657.2,1077.6 657.9,1069.7 658.6,1067.5 659.3,1069.8 660.0,1061.9 660.7,1061.3 661.4,1064.8 662.1,1065.8 662.8,1066.6 663.5,1061.0 664.2,1058.0 664.9,1062.3 665.6,1059.3 666.3,1063.1 667.0,1068.9 667.7,1066.0 668.4,1055.3 669.1,1057.0 669.8,1050.2 670.5,1059.4 671.2,1055.1 671.8,1053.1 672.5,1055.9 673.2,1066.4 673.9,1065.2 674.6,1064.7 675.3,1072.7 676.0,1065.7 676.7,1064.0 677.4,1074.4 678.1,1061.5 678.8,1076.1 679.5,1076.9 680.2,1078.2 680.9,1081.9 681.6,1076.2 682.3,1079.4 683.0,1070.7 683.7,1077.8 684.4,1079.1 685.1,1084.4 685.8,1092.2 686.5,1085.2 687.2,1090.2 687.9,1080.2 688.6,1086.3 689.3,1076.6 690.0,1081.8 690.7,1080.7 691.4,1083.7 692.1,1083.1 692.8,1079.8 693.5,1077.4 694.2,1086.1 694.9,1078.1 695.6,1064.6 696.3,1079.5 697.0,1079.4 697.7,1080.8 698.4,1084.1 699.1,1067.6 699.8,1073.0 700.4,1070.5 701.1,1060.3 701.8,1055.3 702.5,1074.1 703.2,1061.6 703.9,1063.1 704.6,1063.7 705.3,1062.7 706.0,1065.1 706.7,1055.1 707.4,1060.3 708.1,1061.3 708.8,1055.5 709.5,1057.0 710.2,1058.9 710.9,1059.1 711.6,1050.1 712.3,1056.7 713.0,1059.5 713.7,1063.1 714.4,1059.3 715.1,1062.5 715.8,1054.7 716.5,1052.6 717.2,1064.6 717.9,1050.8 718.6,1045.1 719.3,1045.7 720.0,1049.9 720.7,1034.4 721.4,1043.3 722.1,1043.7 722.8,1040.0 723.5,1031.2 724.2,1022.8 724.9,1019.1 725.6,1021.9 726.3,1027.1 727.0,1021.8 727.7,1020.9 728.4,1015.0 729.0,1021.3 729.7,1009.2 730.4,1004.3 731.1,1006.3 731.8,1001.2 732.5,1006.3 733.2,1007.1 733.9,1001.4 734.6,991.3 735.3,991.0 736.0,997.3 736.7,988.9 737.4,995.6 738.1,986.7 738.8,991.1 739.5,995.0 740.2,989.1 740.9,995.6 741.6,995.8 742.3,997.3 743.0,989.3 743.7,989.5 744.4,987.8 745.1,986.7 745.8,976.2 746.5,980.0 747.2,977.4 747.9,966.2 748.6,961.9 749.3,962.1 750.0,965.7 750.7,958.4 751.4,951.2 752.1,949.6 752.8,941.3 753.5,946.4 754.2,936.8 754.9,937.1 755.6,928.6 756.3,929.5 757.0,924.2 757.6,926.6 758.3,927.2 759.0,925.3 759.7,922.9 760.4,923.4 761.1,917.2 761.8,916.5 762.5,918.9 763.2,921.9 763.9,919.3 764.6,920.5 765.3,914.8 766.0,917.6 766.7,917.1 767.4,919.4 768.1,923.5 768.8,920.4 769.5,921.3 770.2,917.6 770.9,918.3 771.6,920.7 772.3,919.7 773.0,914.7 773.7,921.2 774.4,921.2 775.1,919.4 775.8,920.7 776.5,920.1 777.2,917.7 777.9,914.7 778.6,923.9 779.3,919.5 780.0,919.4 780.7,919.9 781.4,920.3 782.1,920.8 782.8,917.3 783.5,921.0 784.2,919.8 784.9,919.0 785.6,918.2 786.2,918.2 786.9,914.5 787.6,916.3 788.3,915.0 789.0,914.8 789.7,916.4 790.4,915.2 791.1,915.1 791.8,911.2 792.5,912.8 793.2,912.8 793.9,908.6 794.6,906.8 795.3,911.7 796.0,901.9 796.7,905.1 797.4,904.5 798.1,900.6 798.8,902.4 799.5,903.4 800.2,895.5 800.9,903.5 801.6,900.6 802.3,898.0 803.0,903.0 803.7,900.4 804.4,899.3 805.1,894.3 805.8,903.1 806.5,901.3 807.2,900.0 807.9,902.1 808.6,906.1 809.3,902.7 810.0,904.3 810.7,904.2 811.4,903.3 812.1,904.5 812.8,907.0 813.5,908.1 814.2,912.6 814.8,911.1 815.5,911.1 816.2,913.7 816.9,913.4 817.6,916.9 818.3,911.9 819.0,911.5 819.7,919.2 820.4,918.4 821.1,921.3 821.8,918.8 822.5,922.2 823.2,924.5 823.9,926.6 824.6,927.1 825.3,931.3 826.0,928.3 826.7,933.2 827.4,931.3 828.1,933.7 828.8,932.5 829.5,936.6 830.2,935.1 830.9,941.3 831.6,938.5 832.3,941.8 833.0,941.9 833.7,943.4 834.4,942.3 835.1,951.0 835.8,946.0 836.5,951.8 837.2,945.9 837.9,955.1 838.6,953.7 839.3,956.5 840.0,949.1 840.7,957.7 841.4,955.2 842.1,958.1 842.8,962.5 843.4,960.0 844.1,958.8 844.8,962.3 845.5,960.8 846.2,965.7 846.9,966.3 847.6,968.9 848.3,968.8 849.0,966.7 849.7,972.8 850.4,975.5 851.1,980.1 851.8,983.2 852.5,980.3 853.2,989.9 853.9,992.5 854.6,993.6 855.3,997.7 856.0,994.9 856.7,1009.4 857.4,1005.8 858.1,1008.3 858.8,1016.6 859.5,1019.5 860.2,1021.2 860.9,1022.8 861.6,1034.3 862.3,1041.0 863.0,1039.4 863.7,1042.8 864.4,1052.2 865.1,1061.3 865.8,1055.7 866.5,1063.3 867.2,1062.6 867.9,1067.8 868.6,1070.7 869.3,1072.9 870.0,1069.9 870.7,1071.8 871.4,1082.8 872.0,1081.4 872.7,1075.9 873.4,1082.9 874.1,1086.7 874.8,1084.2 875.5,1085.4 876.2,1086.0 876.9,1087.4 877.6,1087.0 878.3,1087.0 879.0,1084.5 879.7,1086.7 880.4,1084.6 881.1,1083.3 881.8,1078.6 882.5,1080.0 883.2,1080.1 883.9,1077.4 884.6,1076.6 885.3,1073.7 886.0,1074.1 886.7,1069.8 887.4,1070.0 888.1,1072.5 888.8,1072.3 889.5,1067.8 890.2,1067.5 890.9,1067.8 891.6,1070.2 892.3,1070.1 893.0,1063.5 893.7,1061.7 894.4,1061.1 895.1,1066.4 895.8,1061.0 896.5,1065.8 897.2,1064.4 897.9,1065.4 898.6,1069.7 899.3,1070.5 900.0,1075.8 900.6,1074.3 901.3,1078.2 902.0,1074.1 902.7,1076.8 903.4,1076.3 904.1,1079.5 904.8,1083.9 905.5,1083.1 906.2,1086.7 906.9,1085.9 907.6,1088.4 908.3,1093.9 909.0,1093.6 909.7,1096.0 910.4,1099.5 911.1,1099.0 911.8,1099.5 912.5,1107.4 913.2,1109.8 913.9,1116.9 914.6,1113.3 915.3,1115.8 916.0,1121.4 916.7,1115.9 917.4,1114.9 918.1,1117.5 918.8,1115.5 919.5,1115.6 920.2,1109.6 920.9,1113.6 921.6,1108.5 922.3,1100.4 923.0,1103.0 923.7,1099.5 924.4,1098.5 925.1,1098.6 925.8,1093.1 926.5,1089.4 927.2,1090.6 927.9,1084.6 928.6,1080.0 929.2,1078.2 929.9,1083.0 930.6,1079.5 931.3,1079.4 932.0,1070.7 932.7,1070.0 933.4,1067.9 934.1,1070.1 934.8,1068.9 935.5,1063.8 936.2,1061.9 936.9,1062.6 937.6,1058.3 938.3,1055.4 939.0,1055.0 939.7,1056.9 940.4,1058.4 941.1,1052.6 941.8,1050.7 942.5,1051.1 943.2,1051.2 943.9,1052.2 944.6,1049.1 945.3,1051.9 946.0,1052.4 946.7,1056.4 947.4,1056.8 948.1,1056.2 948.8,1060.7 949.5,1062.9 950.2,1062.1 950.9,1059.7 951.6,1063.9 952.3,1062.1 953.0,1067.6 953.7,1069.4 954.4,1073.4 955.1,1072.5 955.8,1068.6 956.5,1072.9 957.2,1073.2 957.8,1074.7 958.5,1078.0 959.2,1079.9 959.9,1080.4 960.6,1080.2 961.3,1082.0 962.0,1083.0 962.7,1084.8 963.4,1088.0 964.1,1087.4 964.8,1089.6 965.5,1084.9 966.2,1092.8 966.9,1087.7 967.6,1080.5 968.3,1086.9 969.0,1088.2 969.7,1084.5 970.4,1080.2 971.1,1082.9 971.8,1079.8 972.5,1079.9 973.2,1080.0 973.9,1069.7 974.6,1076.4 975.3,1076.8 976.0,1075.6 976.7,1072.3 977.4,1071.2 978.1,1069.3 978.8,1069.8 979.5,1072.7 980.2,1066.4 980.9,1067.3 981.6,1065.9 982.3,1067.7 983.0,1064.0 983.7,1063.1 984.4,1060.0 985.1,1062.4 985.8,1057.3 986.4,1056.0 987.1,1058.1 987.8,1055.9 988.5,1055.6 989.2,1050.3 989.9,1058.6 990.6,1052.5 991.3,1055.6 992.0,1052.0 992.7,1047.3 993.4,1050.1 994.1,1047.3 994.8,1049.3 995.5,1041.7 996.2,1044.8 996.9,1045.9 997.6,1053.9 998.3,1055.1 999.0,1051.3 999.7,1056.5 1000.4,1058.5 1001.1,1058.8 1001.8,1064.7 1002.5,1061.1 1003.2,1064.6 1003.9,1064.8 1004.6,1069.2 1005.3,1067.6 1006.0,1072.2 1006.7,1069.4 1007.4,1070.5 1008.1,1072.5 1008.8,1075.0 1009.5,1076.1 1010.2,1086.1 1010.9,1078.2 1011.6,1082.2 1012.3,1082.3 1013.0,1084.3 1013.7,1088.0 1014.4,1086.7 1015.0,1084.5 1015.7,1083.5 1016.4,1089.6 1017.1,1091.2 1017.8,1086.0 1018.5,1092.8 1019.2,1086.0 1019.9,1091.9 1020.6,1095.0 1021.3,1090.9 1022.0,1089.8 1022.7,1098.4 1023.4,1091.3 1024.1,1096.6 1024.8,1092.5 1025.5,1097.8 1026.2,1101.2 1026.9,1096.2 1027.6,1095.5 1028.3,1092.7 1029.0,1094.0 1029.7,1096.9 1030.4,1099.2 1031.1,1099.9 1031.8,1099.3 1032.5,1100.6 1033.2,1099.1 1033.9,1104.9 1034.6,1097.8 1035.3,1098.2 1036.0,1091.4 1036.7,1096.0 1037.4,1099.1 1038.1,1096.3 1038.8,1100.8 1039.5,1099.1 1040.2,1102.3 1040.9,1093.6 1041.6,1095.7 1042.3,1100.2 1043.0,1097.2 1043.6,1094.4 1044.3,1095.5 1045.0,1095.6 1045.7,1098.7 1046.4,1098.0 1047.1,1096.0 1047.8,1094.0 1048.5,1098.6 1049.2,1099.4 1049.9,1093.7 1050.6,1099.2 1051.3,1094.2 1052.0,1096.5 1052.7,1095.0 1053.4,1093.0 1054.1,1096.1 1054.8,1096.3 1055.5,1101.2 1056.2,1101.3 1056.9,1098.5 1057.6,1097.0 1058.3,1098.2 1059.0,1096.8 1059.7,1102.9 1060.4,1104.2 1061.1,1103.1 1061.8,1106.7 1062.5,1108.1 1063.2,1112.2 1063.9,1108.7 1064.6,1116.0 1065.3,1113.9 1066.0,1121.1 1066.7,1116.8 1067.4,1124.6 1068.1,1122.1 1068.8,1130.6 1069.5,1129.9 1070.2,1127.8 1070.9,1135.1 1071.6,1135.2 1072.2,1139.2 1072.9,1146.5 1073.6,1142.2 1074.3,1144.0 1075.0,1149.7 1075.7,1146.6 1076.4,1150.5 1077.1,1151.1 1077.8,1148.5 1078.5,1150.2 1079.2,1142.5 1079.9,1152.4 1080.6,1146.3 1081.3,1145.6 1082.0,1153.1 1082.7,1152.3 1083.4,1146.2 1084.1,1148.7 1084.8,1146.3 1085.5,1144.1 1086.2,1147.7 1086.9,1149.1 1087.6,1152.9 1088.3,1144.9 1089.0,1147.2 1089.7,1143.4 1090.4,1143.0 1091.1,1146.5 1091.8,1137.8 1092.5,1138.7 1093.2,1138.5 1093.9,1142.9" stroke="#33e6f0" stroke-width="1.5" fill="none" stroke-linejoin="round"/>
<path d="M605.3,1022.8 605.7,999.2 606.2,991.6 606.7,985.3 607.1,999.3 607.6,986.0 608.1,1008.7 608.5,993.2 609.0,1001.6 609.5,990.0 609.9,981.6 610.4,976.2 610.9,998.7 611.3,970.6 611.8,989.5 612.3,994.5 612.7,983.2 613.2,997.1 613.7,979.0 614.1,974.9 614.6,980.1 615.1,971.2 615.5,981.2 616.0,977.8 616.4,995.1 616.9,978.3 617.4,989.5 617.8,985.7 618.3,982.4 618.8,980.0 619.2,1002.5 619.7,1002.5 620.2,988.8 620.6,980.9 621.1,983.6 621.6,978.9 622.0,975.7 622.5,986.9 623.0,994.8 623.4,1008.5 623.9,1009.4 624.4,1005.8 624.8,999.2 625.3,1001.7 625.7,1006.1 626.2,1009.8 626.7,1002.4 627.1,1009.0 627.6,1009.7 628.1,1011.3 628.5,1023.1 629.0,1030.4 629.5,1014.5 629.9,1017.2 630.4,1026.2 630.9,1030.2 631.3,1001.4 631.8,1037.3 632.3,1032.9 632.7,1029.1 633.2,1046.3 633.7,1033.8 634.1,1016.9 634.6,1027.7 635.0,1032.3 635.5,1034.0 636.0,1040.3 636.4,1032.6 636.9,1045.4 637.4,1049.3 637.8,1044.9 638.3,1037.8 638.8,1044.7 639.2,1042.3 639.7,1070.4 640.2,1039.3 640.6,1029.1 641.1,1040.3 641.6,1057.7 642.0,1064.0 642.5,1054.4 643.0,1067.7 643.4,1052.7 643.9,1065.7 644.3,1052.9 644.8,1050.3 645.3,1082.5 645.7,1062.0 646.2,1071.7 646.7,1078.6 647.1,1071.8 647.6,1068.4 648.1,1057.4 648.5,1079.6 649.0,1057.2 649.5,1048.9 649.9,1060.9 650.4,1061.2 650.9,1065.7 651.3,1075.0 651.8,1060.6 652.3,1061.6 652.5,1058.7 653.2,1043.7 653.9,1057.9 654.6,1059.7 655.3,1050.7 656.0,1071.8 656.7,1069.6 657.4,1063.4 658.1,1064.8 658.8,1054.9 659.5,1061.0 660.2,1046.8 660.9,1047.6 661.6,1051.6 662.3,1057.9 662.9,1051.0 663.6,1049.0 664.3,1059.1 665.0,1050.0 665.7,1047.2 666.4,1049.3 667.1,1040.8 667.8,1042.4 668.5,1054.0 669.2,1048.2 669.9,1053.8 670.6,1045.7 671.3,1054.6 672.0,1044.9 672.7,1048.9 673.4,1046.6 674.1,1054.4 674.8,1063.5 675.5,1046.0 676.2,1058.9 676.9,1051.3 677.6,1058.3 678.3,1058.3 679.0,1052.9 679.7,1062.8 680.4,1057.6 681.1,1075.4 681.8,1062.5 682.5,1069.8 683.2,1070.1 683.9,1070.2 684.6,1069.0 685.3,1062.2 686.0,1083.5 686.7,1073.0 687.4,1078.0 688.1,1067.4 688.8,1077.0 689.5,1072.0 690.2,1076.9 690.9,1070.6 691.5,1068.3 692.2,1076.3 692.9,1073.3 693.6,1081.5 694.3,1070.9 695.0,1067.1 695.7,1074.7 696.4,1064.3 697.1,1082.3 697.8,1080.3 698.5,1076.8 699.2,1070.8 699.9,1067.1 700.6,1066.9 701.3,1066.1 702.0,1060.8 702.7,1067.1 703.4,1071.0 704.1,1070.2 704.8,1050.0 705.5,1075.5 706.2,1062.2 706.9,1052.1 707.6,1057.2 708.3,1064.3 709.0,1058.8 709.7,1053.2 710.4,1050.6 711.1,1062.2 711.8,1051.8 712.5,1054.0 713.2,1048.3 713.9,1045.7 714.6,1055.0 715.3,1060.5 716.0,1048.6 716.7,1039.2 717.4,1044.0 718.1,1044.8 718.8,1030.0 719.5,1047.8 720.1,1034.0 720.8,1040.1 721.5,1033.8 722.2,1030.8 722.9,1019.9 723.6,1031.1 724.3,1026.1 725.0,1029.2 725.7,1015.0 726.4,1017.7 727.1,1010.6 727.8,1016.5 728.5,1010.5 729.2,1001.0 729.9,1005.2 730.6,998.9 731.3,997.3 732.0,999.7 732.7,1003.8 733.4,989.4 734.1,991.9 734.8,986.6 735.5,1000.1 736.2,997.5 736.9,999.1 737.6,992.6 738.3,983.3 739.0,985.1 739.7,987.5 740.4,986.3 741.1,983.1 741.8,987.2 742.5,983.5 743.2,983.8 743.9,992.2 744.6,982.8 745.3,973.3 746.0,977.7 746.7,973.6 747.4,972.1 748.1,968.4 748.7,959.3 749.4,961.1 750.1,960.6 750.8,964.8 751.5,953.5 752.2,954.8 752.9,951.1 753.6,940.1 754.3,937.4 755.0,941.9 755.7,931.7 756.4,930.6 757.1,932.0 757.8,926.9 758.5,932.2 759.2,930.6 759.9,930.7 760.6,929.3 761.3,923.7 762.0,929.0 762.7,928.1 763.4,927.2 764.1,924.0 764.8,925.1 765.5,921.8 766.2,925.7 766.9,927.1 767.6,925.0 768.3,923.6 769.0,926.1 769.7,922.9 770.4,919.0 771.1,925.2 771.8,923.6 772.5,920.2 773.2,925.3 773.9,925.9 774.6,926.5 775.3,922.7 776.0,922.4 776.7,924.1 777.3,923.6 778.0,920.4 778.7,921.5 779.4,927.3 780.1,923.7 780.8,923.4 781.5,921.9 782.2,924.3 782.9,925.2 783.6,924.4 784.3,927.3 785.0,922.2 785.7,923.0 786.4,919.4 787.1,922.4 787.8,920.0 788.5,920.4 789.2,919.7 789.9,914.3 790.6,916.4 791.3,913.3 792.0,916.5 792.7,912.4 793.4,916.0 794.1,911.9 794.8,910.8 795.5,906.9 796.2,906.8 796.9,906.6 797.6,903.0 798.3,903.6 799.0,901.8 799.7,900.4 800.4,901.8 801.1,901.8 801.8,899.8 802.5,901.5 803.2,899.4 803.9,897.6 804.6,898.5 805.3,902.1 805.9,904.9 806.6,902.3 807.3,903.2 808.0,900.8 808.7,905.4 809.4,905.9 810.1,904.4 810.8,908.5 811.5,908.7 812.2,904.9 812.9,906.5 813.6,909.8 814.3,911.7 815.0,915.9 815.7,912.9 816.4,915.2 817.1,915.8 817.8,918.8 818.5,918.6 819.2,920.2 819.9,920.2 820.6,918.6 821.3,922.6 822.0,929.1 822.7,928.6 823.4,931.5 824.1,930.9 824.8,928.7 825.5,930.5 826.2,934.4 826.9,933.5 827.6,937.4 828.3,940.5 829.0,941.7 829.7,941.5 830.4,936.9 831.1,945.1 831.8,939.6 832.5,940.4 833.2,945.4 833.9,946.0 834.5,948.4 835.2,947.8 835.9,947.0 836.6,949.6 837.3,947.9 838.0,948.3 838.7,951.4 839.4,952.4 840.1,954.3 840.8,954.2 841.5,958.9 842.2,956.0 842.9,957.6 843.6,961.5 844.3,954.9 845.0,964.1 845.7,965.1 846.4,963.5 847.1,970.6 847.8,969.2 848.5,972.7 849.2,973.0 849.9,972.9 850.6,974.0 851.3,974.3 852.0,977.7 852.7,979.4 853.4,983.8 854.1,989.4 854.8,988.4 855.5,995.7 856.2,999.2 856.9,996.9 857.6,1002.0 858.3,1006.8 859.0,1009.0 859.7,1012.7 860.4,1022.8 861.1,1024.2 861.8,1031.7 862.5,1033.2 863.1,1040.0 863.8,1039.4 864.5,1045.9 865.2,1053.4 865.9,1054.9 866.6,1061.1 867.3,1060.2 868.0,1060.9 868.7,1063.5 869.4,1070.9 870.1,1068.6 870.8,1068.1 871.5,1070.2 872.2,1069.5 872.9,1077.2 873.6,1073.7 874.3,1077.8 875.0,1076.5 875.7,1076.6 876.4,1076.3 877.1,1079.8 877.8,1077.8 878.5,1081.1 879.2,1081.4 879.9,1075.8 880.6,1076.8 881.3,1080.2 882.0,1077.4 882.7,1074.4 883.4,1069.6 884.1,1070.0 884.8,1069.8 885.5,1075.5 886.2,1070.4 886.9,1068.1 887.6,1067.6 888.3,1066.7 889.0,1067.4 889.7,1061.3 890.4,1061.0 891.1,1064.1 891.7,1065.5 892.4,1056.8 893.1,1062.9 893.8,1057.9 894.5,1055.9 895.2,1063.2 895.9,1060.3 896.6,1062.3 897.3,1060.6 898.0,1061.8 898.7,1058.5 899.4,1062.9 900.1,1065.5 900.8,1063.7 901.5,1068.6 902.2,1070.1 902.9,1064.7 903.6,1073.9 904.3,1074.4 905.0,1074.4 905.7,1078.6 906.4,1082.6 907.1,1075.8 907.8,1082.0 908.5,1083.1 909.2,1084.6 909.9,1088.3 910.6,1090.7 911.3,1089.7 912.0,1086.2 912.7,1092.6 913.4,1094.5 914.1,1102.0 914.8,1099.7 915.5,1103.8 916.2,1099.5 916.9,1102.3 917.6,1101.5 918.3,1101.3 919.0,1101.8 919.7,1103.1 920.3,1096.4 921.0,1099.9 921.7,1097.7 922.4,1093.6 923.1,1092.6 923.8,1088.1 924.5,1084.0 925.2,1083.8 925.9,1081.7 926.6,1080.0 927.3,1075.7 928.0,1080.6 928.7,1073.0 929.4,1074.5 930.1,1073.6 930.8,1069.0 931.5,1068.6 932.2,1064.7 932.9,1061.9 933.6,1069.2 934.3,1061.8 935.0,1055.1 935.7,1056.4 936.4,1053.4 937.1,1055.5 937.8,1058.2 938.5,1056.2 939.2,1050.3 939.9,1048.7 940.6,1052.3 941.3,1050.5 942.0,1048.6 942.7,1053.6 943.4,1050.0 944.1,1045.2 944.8,1044.2 945.5,1050.9 946.2,1046.8 946.9,1053.9 947.6,1055.9 948.3,1060.9 948.9,1054.1 949.6,1059.0 950.3,1053.5 951.0,1060.1 951.7,1061.9 952.4,1068.4 953.1,1061.2 953.8,1067.1 954.5,1067.7 955.2,1074.1 955.9,1067.3 956.6,1068.4 957.3,1073.8 958.0,1073.3 958.7,1073.8 959.4,1073.6 960.1,1077.1 960.8,1074.0 961.5,1080.2 962.2,1082.1 962.9,1082.5 963.6,1088.6 964.3,1084.6 965.0,1080.3 965.7,1082.3 966.4,1085.0 967.1,1081.7 967.8,1087.4 968.5,1082.4 969.2,1079.6 969.9,1078.3 970.6,1081.2 971.3,1075.8 972.0,1072.3 972.7,1077.2 973.4,1073.0 974.1,1077.8 974.8,1077.8 975.5,1070.0 976.2,1070.5 976.9,1069.1 977.5,1070.2 978.2,1068.4 978.9,1064.5 979.6,1061.1 980.3,1064.9 981.0,1067.3 981.7,1058.6 982.4,1059.0 983.1,1057.5 983.8,1057.6 984.5,1050.8 985.2,1055.4 985.9,1053.1 986.6,1058.2 987.3,1053.9 988.0,1053.3 988.7,1050.8 989.4,1049.2 990.1,1051.5 990.8,1044.8 991.5,1051.8 992.2,1050.2 992.9,1048.8 993.6,1053.2 994.3,1049.4 995.0,1050.3 995.7,1054.0 996.4,1049.8 997.1,1056.1 997.8,1057.3 998.5,1062.3 999.2,1066.0 999.9,1065.2 1000.6,1066.3 1001.3,1068.4 1002.0,1067.0 1002.7,1076.8 1003.4,1075.1 1004.1,1078.3 1004.8,1071.6 1005.5,1078.1 1006.1,1079.5 1006.8,1082.6 1007.5,1079.1 1008.2,1084.0 1008.9,1083.9 1009.6,1091.2 1010.3,1084.4 1011.0,1087.7 1011.7,1088.5 1012.4,1087.9 1013.1,1092.5 1013.8,1093.3 1014.5,1091.8 1015.2,1093.4 1015.9,1095.9 1016.6,1096.0 1017.3,1098.1 1018.0,1095.7 1018.7,1095.9 1019.4,1098.9 1020.1,1094.7 1020.8,1104.2 1021.5,1101.4 1022.2,1096.9 1022.9,1102.9 1023.6,1106.4 1024.3,1099.1 1025.0,1101.7 1025.7,1106.5 1026.4,1101.7 1027.1,1106.6 1027.8,1107.6 1028.5,1104.7 1029.2,1105.7 1029.9,1107.5 1030.6,1105.8 1031.3,1107.5 1032.0,1104.9 1032.7,1105.3 1033.4,1103.4 1034.1,1106.6 1034.7,1109.0 1035.4,1109.0 1036.1,1106.4 1036.8,1101.9 1037.5,1103.7 1038.2,1107.7 1038.9,1103.7 1039.6,1109.2 1040.3,1103.6 1041.0,1107.3 1041.7,1104.4 1042.4,1104.9 1043.1,1107.3 1043.8,1105.8 1044.5,1109.4 1045.2,1106.9 1045.9,1104.0 1046.6,1096.3 1047.3,1105.1 1048.0,1106.7 1048.7,1109.6 1049.4,1104.3 1050.1,1111.4 1050.8,1109.3 1051.5,1106.4 1052.2,1110.5 1052.9,1103.6 1053.6,1104.9 1054.3,1109.5 1055.0,1109.9 1055.7,1112.4 1056.4,1113.2 1057.1,1109.1 1057.8,1109.4 1058.5,1110.9 1059.2,1112.0 1059.9,1115.1 1060.6,1113.6 1061.3,1119.3 1062.0,1116.5 1062.7,1113.8 1063.3,1115.4 1064.0,1121.5 1064.7,1122.8 1065.4,1120.1 1066.1,1120.9 1066.8,1131.2 1067.5,1130.4 1068.2,1130.6 1068.9,1130.0 1069.6,1137.2 1070.3,1135.1 1071.0,1139.4 1071.7,1134.6 1072.4,1141.8 1073.1,1145.5 1073.8,1148.1 1074.5,1146.2 1075.2,1148.4 1075.9,1153.6 1076.6,1150.3 1077.3,1154.3 1078.0,1152.7 1078.7,1153.9 1079.4,1153.9 1080.1,1152.0 1080.8,1152.6 1081.5,1148.5 1082.2,1147.5 1082.9,1149.9 1083.6,1151.9 1084.3,1146.7 1085.0,1153.7 1085.7,1153.1 1086.4,1145.8 1087.1,1145.5 1087.8,1144.2 1088.5,1146.6 1089.2,1148.7 1089.9,1146.0 1090.6,1142.5 1091.3,1145.2 1091.9,1144.2 1092.6,1145.1 1093.3,1143.6 1094.0,1137.6" stroke="#1e7cf0" stroke-width="1.5" fill="none" stroke-linejoin="round"/></g>
<rect x="512.3" y="703.6" width="581.3" height="468.19999999999993" fill="none" stroke="#333" stroke-width="2"/>
<text x="512.30" y="1197.2" font-size="24" text-anchor="middle" font-family='"Liberation Serif", serif' >0</text>
<text x="570.43" y="1197.2" font-size="24" text-anchor="middle" font-family='"Liberation Serif", serif' >1</text>
<text x="628.56" y="1197.2" font-size="24" text-anchor="middle" font-family='"Liberation Serif", serif' >2</text>
<text x="686.69" y="1197.2" font-size="24" text-anchor="middle" font-family='"Liberation Serif", serif' >3</text>
<text x="744.82" y="1197.2" font-size="24" text-anchor="middle" font-family='"Liberation Serif", serif' >4</text>
<text x="802.95" y="1197.2" font-size="24" text-anchor="middle" font-family='"Liberation Serif", serif' >5</text>
<text x="861.08" y="1197.2" font-size="24" text-anchor="middle" font-family='"Liberation Serif", serif' >6</text>
<text x="919.21" y="1197.2" font-size="24" text-anchor="middle" font-family='"Liberation Serif", serif' >7</text>
<text x="977.34" y="1197.2" font-size="24" text-anchor="middle" font-family='"Liberation Serif", serif' >8</text>
<text x="1035.47" y="1197.2" font-size="24" text-anchor="middle" font-family='"Liberation Serif", serif' >9</text>
<text x="1093.60" y="1197.2" font-size="24" text-anchor="middle" font-family='"Liberation Serif", serif' >10</text>
<text x="505.7" y="1179.40" font-size="24" text-anchor="end" font-family='"Liberation Serif", serif' >0.0</text>
<text x="505.7" y="1085.76" font-size="24" text-anchor="end" font-family='"Liberation Serif", serif' >0.8</text>
<text x="505.7" y="992.12" font-size="24" text-anchor="end" font-family='"Liberation Serif", serif' >1.6</text>
<text x="505.7" y="898.48" font-size="24" text-anchor="end" font-family='"Liberation Serif", serif' >2.4</text>
<text x="505.7" y="804.84" font-size="24" text-anchor="end" font-family='"Liberation Serif", serif' >3.2</text>
<text x="505.7" y="711.20" font-size="24" text-anchor="end" font-family='"Liberation Serif", serif' >4.0</text>
<text x="808.7" y="1227.6" font-size="26.5" text-anchor="middle" font-family='"Liberation Serif", serif' >Time (ms)</text>
<text transform="translate(455.7,920.5) rotate(-90)" font-size="26.6" text-anchor="middle" font-family='"Liberation Serif", serif'>Acceleration (g)</text>
<path d="M986.3,733.2H1040.9" stroke="#3a8ee8" stroke-width="1.5" opacity="0.65"/>
<text x="1047.3" y="741.2" font-size="24.2" text-anchor="start" font-family='"Liberation Serif", serif' >A</text>
<path d="M986.3,763.1H1040.9" stroke="#40e8f0" stroke-width="1.5" opacity="0.65"/>
<text x="1047.3" y="771.1" font-size="24.2" text-anchor="start" font-family='"Liberation Serif", serif' >B</text>
<path d="M986.3,793.0H1040.9" stroke="#30e030" stroke-width="1.5" opacity="0.65"/>
<text x="1047.3" y="801.0" font-size="24.2" text-anchor="start" font-family='"Liberation Serif", serif' >C</text>
<path d="M986.3,822.9H1040.9" stroke="#ff3030" stroke-width="1.5" opacity="0.65"/>
<text x="1047.3" y="830.9" font-size="24.2" text-anchor="start" font-family='"Liberation Serif", serif' >D</text>
<path d="M986.3,852.8H1040.9" stroke="#ff8c30" stroke-width="1.5" opacity="0.65"/>
<text x="1047.3" y="860.8" font-size="24.2" text-anchor="start" font-family='"Liberation Serif", serif' >E</text>
<text x="408" y="689" font-size="30" text-anchor="start" font-family='"Liberation Sans", sans-serif' font-weight="bold">C</text>
</svg>
</body></html>
